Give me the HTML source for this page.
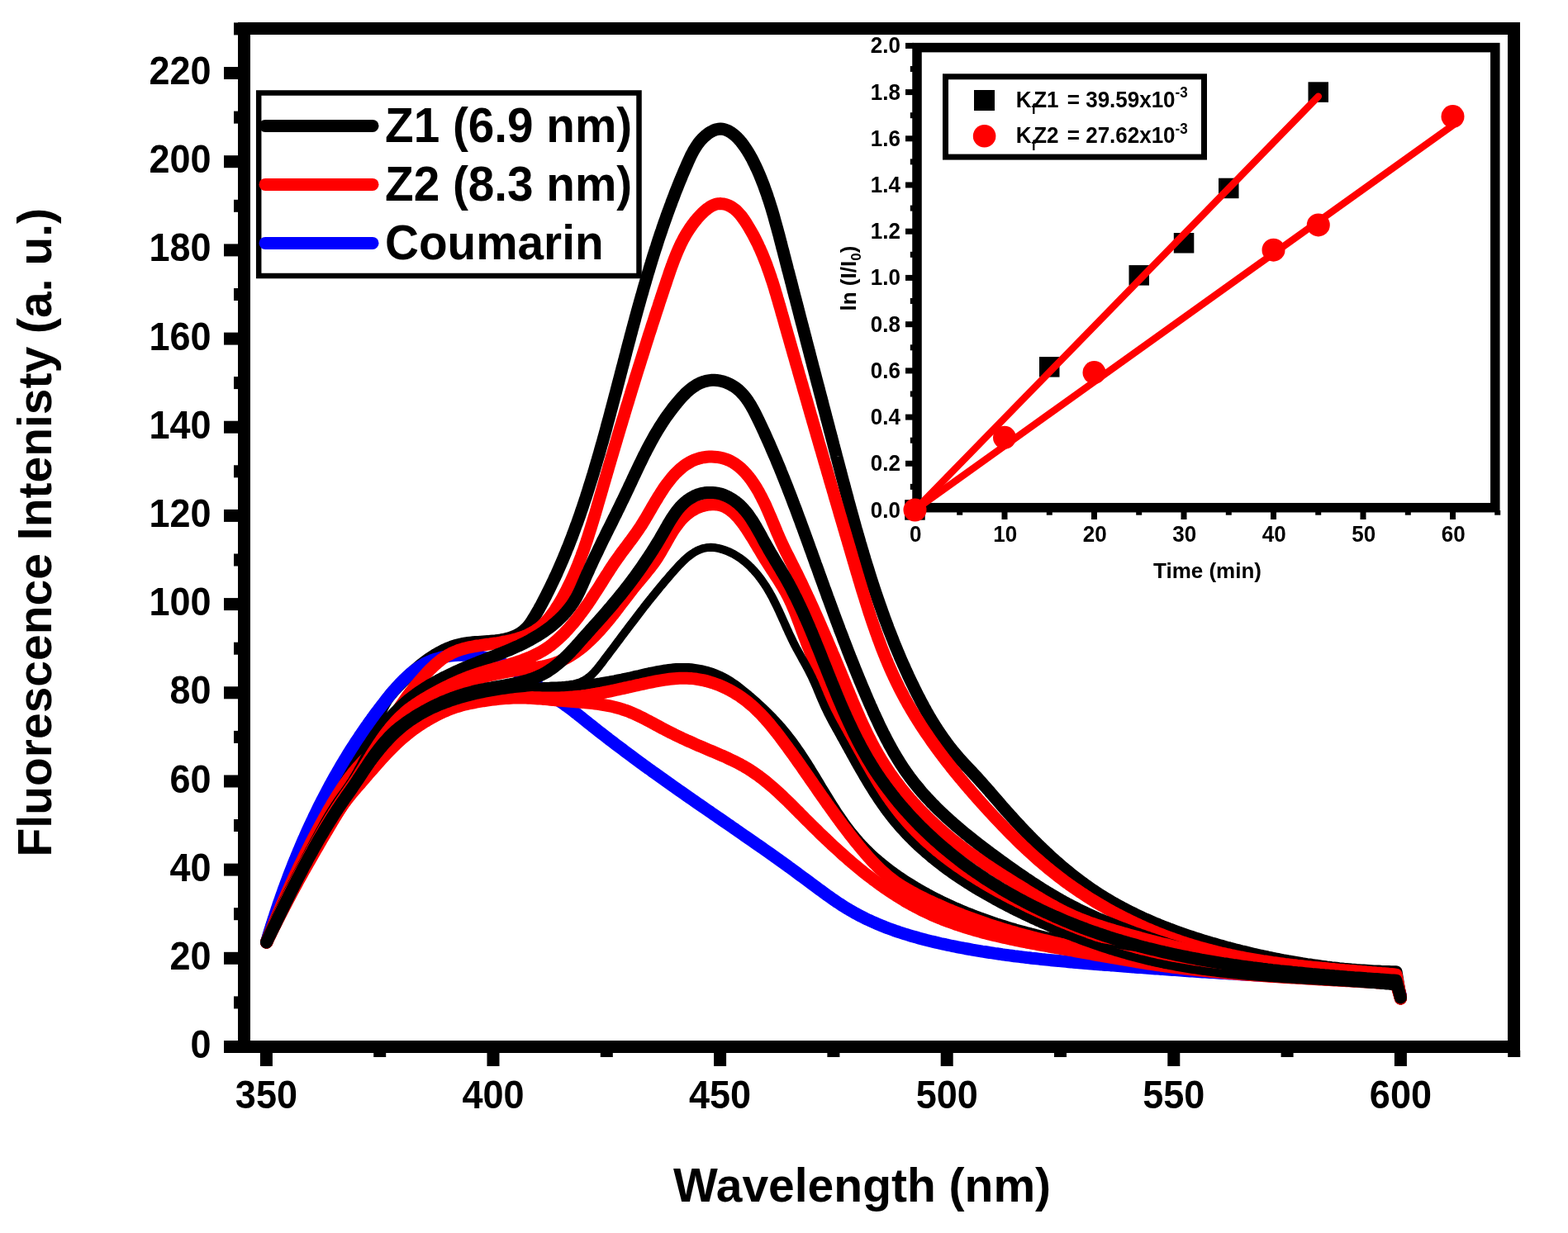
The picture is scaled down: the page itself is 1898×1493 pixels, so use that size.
<!DOCTYPE html><html><head><meta charset="utf-8"><title>Fluorescence spectra</title>
<style>html,body{margin:0;padding:0;background:#fff;overflow:hidden}svg{display:block}text{font-family:'Liberation Sans', Arial, Helvetica, sans-serif;font-weight:bold;fill:#000}</style></head><body>
<svg xmlns="http://www.w3.org/2000/svg" width="1898" height="1493" viewBox="0 0 1898 1493">
<rect width="1898" height="1493" fill="#fff"/>
<defs><clipPath id="pc"><rect x="303" y="42" width="1522" height="1218"/></clipPath></defs>
<g clip-path="url(#pc)" fill="none" stroke-linecap="round" stroke-linejoin="round">
<path d="M322.7,1141.1 L323.6,1138.2 L324.4,1135.3 L325.3,1132.4 L326.2,1129.5 L327.1,1126.6 L328.1,1123.8 L329.0,1120.9 L330.0,1118.0 L330.9,1115.2 L331.9,1112.3 L332.9,1109.5 L333.9,1106.7 L334.9,1103.8 L335.9,1101.0 L336.9,1098.2 L337.9,1095.3 L339.0,1092.5 L340.0,1089.7 L341.1,1086.9 L342.2,1084.1 L343.2,1081.3 L344.3,1078.5 L345.4,1075.7 L346.5,1072.9 L347.7,1070.2 L348.8,1067.4 L349.9,1064.6 L351.1,1061.8 L352.2,1059.1 L353.4,1056.3 L354.5,1053.5 L355.7,1050.8 L356.9,1048.0 L358.1,1045.3 L359.3,1042.5 L360.5,1039.8 L361.7,1037.0 L362.9,1034.3 L364.2,1031.5 L365.4,1028.8 L366.7,1026.1 L367.9,1023.3 L369.2,1020.6 L370.4,1017.9 L371.7,1015.2 L373.0,1012.4 L374.3,1009.7 L375.5,1007.0 L376.8,1004.3 L378.1,1001.6 L379.4,998.9 L380.8,996.1 L382.1,993.4 L383.4,990.7 L384.7,988.0 L386.0,985.3 L387.4,982.6 L388.7,979.9 L390.1,977.2 L391.4,974.5 L392.8,971.8 L394.1,969.1 L395.5,966.4 L396.9,963.7 L398.2,961.0 L399.6,958.4 L401.1,955.7 L402.5,953.0 L404.0,950.4 L405.5,947.8 L407.0,945.2 L408.6,942.7 L410.2,940.1 L411.8,937.6 L413.5,935.2 L415.2,932.8 L417.0,930.4 L418.9,928.0 L420.8,925.7 L422.8,923.5 L424.8,921.3 L426.9,919.1 L429.1,917.0 L431.3,914.9 L433.5,912.9 L435.7,910.8 L437.8,908.7 L439.9,906.5 L441.9,904.3 L443.8,902.1 L445.5,899.7 L447.1,897.2 L448.6,894.7 L450.0,892.0 L451.2,889.3 L452.3,886.5 L453.4,883.7 L454.4,880.8 L455.4,877.9 L456.4,875.0 L457.3,872.1 L458.2,869.2 L459.2,866.3 L460.2,863.4 L461.3,860.6 L462.4,857.8 L463.7,855.1 L465.0,852.5 L466.5,849.9 L468.0,847.4 L469.7,845.0 L471.5,842.7 L473.3,840.4 L475.2,838.1 L477.2,835.9 L479.3,833.7 L481.3,831.5 L483.4,829.4 L485.5,827.2 L487.7,825.0 L489.8,822.9 L492.0,820.8 L494.2,818.6 L496.4,816.5 L498.6,814.5 L500.9,812.4 L503.2,810.4 L505.5,808.4 L507.8,806.4 L510.2,804.5 L512.6,802.6 L515.0,800.8 L517.4,799.0 L519.9,797.3 L522.4,795.6 L524.9,794.0 L527.4,792.4 L530.0,790.9 L532.6,789.5 L535.3,788.1 L537.9,786.8 L540.6,785.6 L543.4,784.5 L546.1,783.4 L548.9,782.4 L551.8,781.5 L554.7,780.7 L557.6,780.0 L560.5,779.4 L563.5,778.9 L566.5,778.5 L569.5,778.1 L572.6,777.8 L575.6,777.6 L578.7,777.4 L581.8,777.2 L584.9,777.0 L587.9,776.8 L591.0,776.6 L594.1,776.3 L597.1,776.1 L600.1,775.8 L603.1,775.4 L606.1,775.0 L609.0,774.5 L611.9,773.8 L614.7,773.1 L617.5,772.3 L620.2,771.3 L622.9,770.2 L625.5,769.0 L628.1,767.6 L630.5,766.1 L632.9,764.4 L635.1,762.5 L637.2,760.5 L639.2,758.3 L641.1,755.9 L642.8,753.4 L644.5,750.8 L646.1,748.2 L647.7,745.6 L649.3,742.9 L650.8,740.3 L652.3,737.7 L653.7,735.0 L655.2,732.4 L656.6,729.7 L658.0,727.0 L659.4,724.4 L660.8,721.7 L662.1,719.0 L663.5,716.3 L664.8,713.7 L666.1,711.0 L667.4,708.3 L668.7,705.6 L670.0,702.8 L671.3,700.1 L672.5,697.4 L673.8,694.7 L675.0,691.9 L676.2,689.2 L677.4,686.5 L678.6,683.7 L679.8,681.0 L681.0,678.2 L682.2,675.4 L683.3,672.7 L684.5,669.9 L685.6,667.1 L686.7,664.3 L687.9,661.6 L689.0,658.8 L690.0,656.0 L691.1,653.2 L692.2,650.4 L693.3,647.6 L694.3,644.8 L695.4,641.9 L696.4,639.1 L697.4,636.3 L698.5,633.5 L699.5,630.6 L700.5,627.8 L701.5,625.0 L702.5,622.1 L703.4,619.3 L704.4,616.5 L705.4,613.6 L706.3,610.8 L707.3,607.9 L708.2,605.0 L709.2,602.2 L710.1,599.3 L711.0,596.5 L711.9,593.6 L712.8,590.7 L713.7,587.8 L714.6,585.0 L715.5,582.1 L716.4,579.2 L717.3,576.3 L718.2,573.5 L719.0,570.6 L719.9,567.7 L720.7,564.8 L721.6,561.9 L722.4,559.0 L723.3,556.1 L724.1,553.2 L725.0,550.4 L725.8,547.5 L726.6,544.6 L727.4,541.7 L728.2,538.8 L729.1,535.9 L729.9,533.0 L730.7,530.1 L731.5,527.2 L732.3,524.3 L733.1,521.4 L733.9,518.5 L734.6,515.6 L735.4,512.7 L736.2,509.8 L737.0,506.9 L737.8,503.9 L738.6,501.0 L739.3,498.1 L740.1,495.2 L740.9,492.3 L741.6,489.4 L742.4,486.5 L743.2,483.6 L743.9,480.7 L744.7,477.8 L745.5,474.9 L746.2,472.0 L747.0,469.1 L747.7,466.2 L748.5,463.2 L749.3,460.3 L750.0,457.4 L750.8,454.5 L751.5,451.6 L752.3,448.7 L753.0,445.8 L753.8,442.9 L754.6,440.0 L755.3,437.1 L756.1,434.2 L756.8,431.3 L757.6,428.4 L758.3,425.4 L759.1,422.5 L759.9,419.6 L760.6,416.7 L761.4,413.8 L762.2,410.9 L762.9,408.0 L763.7,405.1 L764.5,402.2 L765.2,399.3 L766.0,396.4 L766.8,393.5 L767.6,390.6 L768.4,387.7 L769.1,384.8 L769.9,381.9 L770.7,379.0 L771.5,376.1 L772.3,373.2 L773.1,370.3 L773.9,367.4 L774.7,364.5 L775.5,361.7 L776.3,358.8 L777.2,355.9 L778.0,353.0 L778.8,350.1 L779.6,347.2 L780.5,344.3 L781.3,341.4 L782.1,338.6 L783.0,335.7 L783.8,332.8 L784.7,329.9 L785.6,327.1 L786.4,324.2 L787.3,321.3 L788.2,318.4 L789.0,315.6 L789.9,312.7 L790.8,309.8 L791.7,307.0 L792.6,304.1 L793.5,301.2 L794.5,298.4 L795.4,295.5 L796.3,292.6 L797.2,289.8 L798.2,286.9 L799.1,284.1 L800.1,281.2 L801.1,278.4 L802.0,275.5 L803.0,272.7 L804.0,269.8 L805.0,267.0 L806.0,264.2 L807.0,261.3 L808.0,258.5 L809.0,255.7 L810.1,252.8 L811.1,250.0 L812.2,247.2 L813.2,244.3 L814.3,241.5 L815.4,238.7 L816.4,235.9 L817.5,233.1 L818.6,230.3 L819.8,227.4 L820.9,224.6 L822.0,221.8 L823.1,219.0 L824.3,216.2 L825.4,213.4 L826.6,210.6 L827.8,207.8 L829.0,205.0 L830.2,202.3 L831.4,199.5 L832.6,196.7 L833.9,193.9 L835.1,191.2 L836.4,188.4 L837.8,185.8 L839.2,183.1 L840.7,180.5 L842.3,178.0 L843.9,175.5 L845.6,173.1 L847.5,170.8 L849.4,168.6 L851.5,166.5 L853.7,164.5 L856.1,162.6 L858.5,160.8 L861.1,159.3 L863.8,157.9 L866.6,156.9 L869.4,156.3 L872.2,156.1 L875.0,156.3 L877.7,157.0 L880.4,158.0 L883.0,159.3 L885.6,160.9 L888.0,162.7 L890.4,164.7 L892.6,166.9 L894.8,169.2 L896.9,171.6 L898.8,174.1 L900.7,176.7 L902.5,179.3 L904.2,181.9 L905.8,184.5 L907.4,187.1 L908.8,189.7 L910.3,192.3 L911.6,195.0 L913.0,197.7 L914.3,200.4 L915.5,203.1 L916.8,205.8 L918.0,208.5 L919.2,211.2 L920.3,214.0 L921.4,216.7 L922.5,219.5 L923.6,222.3 L924.7,225.1 L925.7,227.9 L926.7,230.7 L927.7,233.5 L928.7,236.3 L929.6,239.2 L930.6,242.0 L931.5,244.9 L932.4,247.7 L933.3,250.6 L934.2,253.4 L935.0,256.3 L935.9,259.2 L936.7,262.1 L937.5,265.0 L938.3,267.9 L939.1,270.8 L939.9,273.7 L940.7,276.6 L941.5,279.5 L942.3,282.4 L943.1,285.3 L943.8,288.2 L944.6,291.2 L945.3,294.1 L946.1,297.0 L946.8,299.9 L947.6,302.8 L948.4,305.8 L949.1,308.7 L949.9,311.6 L950.6,314.5 L951.4,317.4 L952.1,320.3 L952.9,323.2 L953.6,326.2 L954.4,329.1 L955.2,332.0 L955.9,334.9 L956.7,337.8 L957.4,340.7 L958.2,343.6 L958.9,346.5 L959.7,349.5 L960.4,352.4 L961.2,355.3 L961.9,358.2 L962.7,361.1 L963.5,364.0 L964.2,366.9 L965.0,369.8 L965.7,372.7 L966.5,375.6 L967.2,378.6 L968.0,381.5 L968.7,384.4 L969.5,387.3 L970.2,390.2 L971.0,393.1 L971.8,396.0 L972.5,398.9 L973.3,401.8 L974.0,404.7 L974.8,407.6 L975.5,410.5 L976.3,413.4 L977.0,416.3 L977.8,419.2 L978.6,422.2 L979.3,425.1 L980.1,428.0 L980.8,430.9 L981.6,433.8 L982.3,436.7 L983.1,439.6 L983.8,442.5 L984.6,445.4 L985.4,448.3 L986.1,451.2 L986.9,454.1 L987.6,457.0 L988.4,459.9 L989.1,462.8 L989.9,465.7 L990.7,468.6 L991.4,471.5 L992.2,474.4 L992.9,477.3 L993.7,480.2 L994.5,483.1 L995.2,486.0 L996.0,489.0 L996.7,491.9 L997.5,494.8 L998.3,497.7 L999.0,500.6 L999.8,503.5 L1000.5,506.4 L1001.3,509.3 L1002.1,512.2 L1002.8,515.1 L1003.6,518.0 L1004.3,520.9 L1005.1,523.8 L1005.9,526.7 L1006.6,529.6 L1007.4,532.5 L1008.2,535.4 L1008.9,538.4 L1009.7,541.3 L1010.4,544.2 L1011.2,547.1 L1012.0,550.0 L1012.7,552.9 L1013.5,555.8 L1014.3,558.7 L1015.0,561.6 L1015.8,564.5 L1016.6,567.4 L1017.3,570.3 L1018.1,573.3 L1018.9,576.2 L1019.6,579.1 L1020.4,582.0 L1021.2,584.9 L1022.0,587.8 L1022.7,590.7 L1023.5,593.6 L1024.3,596.5 L1025.1,599.4 L1025.9,602.3 L1026.6,605.3 L1027.4,608.2 L1028.2,611.1 L1029.0,614.0 L1029.8,616.9 L1030.6,619.8 L1031.4,622.7 L1032.2,625.6 L1033.0,628.5 L1033.8,631.4 L1034.6,634.3 L1035.4,637.2 L1036.2,640.1 L1037.1,643.0 L1037.9,645.9 L1038.7,648.8 L1039.6,651.7 L1040.4,654.6 L1041.2,657.5 L1042.1,660.3 L1042.9,663.2 L1043.8,666.1 L1044.6,669.0 L1045.5,671.9 L1046.4,674.8 L1047.2,677.6 L1048.1,680.5 L1049.0,683.4 L1049.9,686.3 L1050.8,689.1 L1051.7,692.0 L1052.6,694.9 L1053.5,697.7 L1054.4,700.6 L1055.3,703.5 L1056.2,706.3 L1057.2,709.2 L1058.1,712.0 L1059.1,714.9 L1060.0,717.7 L1061.0,720.6 L1061.9,723.4 L1062.9,726.3 L1063.9,729.1 L1064.9,732.0 L1065.9,734.8 L1066.9,737.6 L1067.9,740.4 L1068.9,743.3 L1069.9,746.1 L1070.9,748.9 L1072.0,751.7 L1073.0,754.5 L1074.1,757.3 L1075.1,760.2 L1076.2,763.0 L1077.3,765.8 L1078.4,768.6 L1079.5,771.3 L1080.6,774.1 L1081.7,776.9 L1082.8,779.7 L1083.9,782.5 L1085.1,785.3 L1086.2,788.0 L1087.4,790.8 L1088.6,793.6 L1089.7,796.3 L1090.9,799.1 L1092.1,801.8 L1093.3,804.6 L1094.6,807.3 L1095.8,810.1 L1097.0,812.8 L1098.3,815.5 L1099.5,818.3 L1100.8,821.0 L1102.1,823.7 L1103.4,826.4 L1104.7,829.1 L1106.0,831.8 L1107.3,834.5 L1108.7,837.2 L1110.0,839.9 L1111.4,842.6 L1112.8,845.3 L1114.1,847.9 L1115.5,850.6 L1117.0,853.2 L1118.4,855.9 L1119.9,858.5 L1121.3,861.2 L1122.8,863.8 L1124.3,866.4 L1125.8,869.0 L1127.4,871.6 L1128.9,874.1 L1130.5,876.7 L1132.1,879.2 L1133.7,881.8 L1135.3,884.3 L1137.0,886.8 L1138.7,889.3 L1140.4,891.8 L1142.1,894.2 L1143.9,896.6 L1145.7,899.1 L1147.5,901.5 L1149.3,903.9 L1151.1,906.2 L1153.0,908.6 L1154.9,910.9 L1156.9,913.2 L1158.8,915.5 L1160.8,917.8 L1162.8,920.0 L1164.8,922.2 L1166.9,924.5 L1168.9,926.7 L1171.0,928.9 L1173.1,931.1 L1175.1,933.3 L1177.2,935.5 L1179.2,937.7 L1181.3,939.9 L1183.3,942.1 L1185.3,944.4 L1187.3,946.6 L1189.3,948.8 L1191.3,951.1 L1193.3,953.3 L1195.3,955.6 L1197.3,957.8 L1199.2,960.1 L1201.2,962.4 L1203.1,964.6 L1205.1,966.9 L1207.1,969.2 L1209.0,971.4 L1211.0,973.7 L1212.9,976.0 L1214.9,978.2 L1216.9,980.5 L1218.9,982.7 L1220.9,985.0 L1222.9,987.2 L1224.9,989.4 L1226.9,991.7 L1228.9,993.9 L1231.0,996.1 L1233.0,998.3 L1235.1,1000.5 L1237.1,1002.7 L1239.2,1004.9 L1241.3,1007.1 L1243.4,1009.3 L1245.5,1011.4 L1247.6,1013.6 L1249.7,1015.7 L1251.8,1017.9 L1254.0,1020.0 L1256.1,1022.1 L1258.3,1024.2 L1260.4,1026.3 L1262.6,1028.4 L1264.8,1030.5 L1267.0,1032.6 L1269.2,1034.6 L1271.4,1036.7 L1273.6,1038.7 L1275.9,1040.7 L1278.1,1042.7 L1280.4,1044.7 L1282.7,1046.7 L1284.9,1048.6 L1287.2,1050.6 L1289.5,1052.5 L1291.9,1054.4 L1294.2,1056.3 L1296.5,1058.2 L1298.9,1060.1 L1301.2,1061.9 L1303.6,1063.7 L1306.0,1065.6 L1308.4,1067.4 L1310.8,1069.1 L1313.2,1070.9 L1315.7,1072.6 L1318.1,1074.4 L1320.6,1076.1 L1323.0,1077.8 L1325.5,1079.4 L1328.0,1081.1 L1330.5,1082.7 L1333.0,1084.3 L1335.6,1085.9 L1338.1,1087.5 L1340.7,1089.0 L1343.3,1090.5 L1345.8,1092.1 L1348.4,1093.5 L1351.0,1095.0 L1353.7,1096.5 L1356.3,1097.9 L1358.9,1099.3 L1361.6,1100.7 L1364.2,1102.1 L1366.9,1103.5 L1369.6,1104.8 L1372.3,1106.1 L1375.0,1107.4 L1377.7,1108.7 L1380.4,1110.0 L1383.1,1111.3 L1385.8,1112.5 L1388.6,1113.7 L1391.3,1114.9 L1394.1,1116.1 L1396.9,1117.3 L1399.6,1118.5 L1402.4,1119.6 L1405.2,1120.8 L1408.0,1121.9 L1410.8,1123.0 L1413.6,1124.1 L1416.4,1125.2 L1419.3,1126.2 L1422.1,1127.3 L1424.9,1128.3 L1427.8,1129.3 L1430.6,1130.3 L1433.4,1131.3 L1436.3,1132.3 L1439.2,1133.3 L1442.0,1134.2 L1444.9,1135.2 L1447.8,1136.1 L1450.6,1137.0 L1453.5,1137.9 L1456.4,1138.8 L1459.3,1139.7 L1462.2,1140.6 L1465.1,1141.4 L1468.0,1142.3 L1470.9,1143.1 L1473.8,1143.9 L1476.7,1144.8 L1479.6,1145.6 L1482.5,1146.4 L1485.4,1147.2 L1488.3,1147.9 L1491.2,1148.7 L1494.1,1149.5 L1497.0,1150.2 L1499.9,1150.9 L1502.9,1151.7 L1505.8,1152.4 L1508.7,1153.1 L1511.6,1153.8 L1514.5,1154.5 L1517.5,1155.2 L1520.4,1155.9 L1523.3,1156.5 L1526.3,1157.2 L1529.2,1157.8 L1532.1,1158.4 L1535.0,1159.1 L1538.0,1159.7 L1540.9,1160.3 L1543.9,1160.9 L1546.8,1161.4 L1549.7,1162.0 L1552.7,1162.6 L1555.6,1163.1 L1558.6,1163.7 L1561.5,1164.2 L1564.5,1164.7 L1567.4,1165.2 L1570.4,1165.7 L1573.3,1166.2 L1576.3,1166.7 L1579.2,1167.1 L1582.2,1167.6 L1585.2,1168.0 L1588.1,1168.5 L1591.1,1168.9 L1594.1,1169.3 L1597.0,1169.7 L1600.0,1170.1 L1603.0,1170.5 L1606.0,1170.9 L1608.9,1171.2 L1611.9,1171.6 L1614.9,1171.9 L1617.9,1172.2 L1620.9,1172.6 L1623.9,1172.9 L1626.8,1173.2 L1629.8,1173.4 L1632.8,1173.7 L1635.8,1174.0 L1638.8,1174.2 L1641.8,1174.5 L1644.8,1174.7 L1647.8,1174.9 L1650.8,1175.1 L1653.8,1175.3 L1656.8,1175.5 L1659.9,1175.7 L1662.9,1175.9 L1665.9,1176.0 L1668.9,1176.1 L1671.9,1176.3 L1675.0,1176.4 L1678.0,1176.5 L1681.0,1176.6 L1684.0,1176.7 L1687.1,1176.8 L1690.1,1176.8 L1695.4,1209.0" stroke="#000" stroke-width="15"/>
<path d="M322.4,1140.9 L323.3,1138.1 L324.2,1135.2 L325.0,1132.3 L325.9,1129.4 L326.8,1126.6 L327.7,1123.7 L328.6,1120.8 L329.5,1118.0 L330.4,1115.1 L331.3,1112.2 L332.3,1109.4 L333.2,1106.5 L334.2,1103.6 L335.1,1100.8 L336.1,1097.9 L337.0,1095.1 L338.0,1092.2 L339.0,1089.4 L340.0,1086.6 L341.0,1083.7 L342.0,1080.9 L343.0,1078.1 L344.0,1075.2 L345.1,1072.4 L346.1,1069.6 L347.2,1066.7 L348.2,1063.9 L349.3,1061.1 L350.3,1058.3 L351.4,1055.5 L352.5,1052.7 L353.6,1049.9 L354.7,1047.1 L355.8,1044.3 L357.0,1041.5 L358.1,1038.7 L359.2,1035.9 L360.4,1033.1 L361.5,1030.4 L362.7,1027.6 L363.9,1024.8 L365.1,1022.0 L366.2,1019.3 L367.4,1016.5 L368.7,1013.8 L369.9,1011.0 L371.1,1008.3 L372.3,1005.5 L373.6,1002.8 L374.8,1000.1 L376.1,997.3 L377.4,994.6 L378.7,991.9 L379.9,989.2 L381.3,986.4 L382.6,983.7 L383.9,981.0 L385.2,978.3 L386.5,975.7 L387.9,973.0 L389.3,970.3 L390.6,967.6 L392.0,964.9 L393.4,962.3 L394.8,959.6 L396.2,956.9 L397.6,954.3 L399.0,951.6 L400.5,949.0 L401.9,946.4 L403.4,943.7 L404.8,941.1 L406.3,938.5 L407.8,935.9 L409.3,933.3 L410.8,930.7 L412.3,928.1 L413.8,925.5 L415.4,922.9 L416.9,920.3 L418.5,917.8 L420.1,915.2 L421.6,912.6 L423.2,910.1 L424.8,907.5 L426.4,905.0 L428.1,902.5 L429.7,899.9 L431.3,897.4 L433.0,894.9 L434.7,892.4 L436.3,889.9 L438.0,887.4 L439.7,884.9 L441.4,882.4 L443.1,879.9 L444.9,877.5 L446.6,875.0 L448.4,872.6 L450.1,870.1 L451.9,867.7 L453.7,865.2 L455.5,862.8 L457.3,860.4 L459.1,858.0 L461.0,855.6 L462.8,853.2 L464.7,850.8 L466.5,848.4 L468.4,846.1 L470.3,843.7 L472.2,841.4 L474.1,839.0 L476.1,836.7 L478.1,834.5 L480.1,832.2 L482.1,830.0 L484.1,827.8 L486.2,825.6 L488.3,823.5 L490.5,821.4 L492.6,819.4 L494.9,817.4 L497.1,815.4 L499.4,813.5 L501.7,811.7 L504.1,809.9 L506.5,808.2 L509.0,806.6 L511.5,805.1 L514.1,803.6 L516.8,802.3 L519.4,801.1 L522.2,799.9 L524.9,798.9 L527.8,797.9 L530.6,797.1 L533.5,796.3 L536.4,795.6 L539.4,795.0 L542.3,794.5 L545.3,794.1 L548.3,793.7 L551.4,793.5 L554.4,793.3 L557.4,793.2 L560.5,793.2 L563.5,793.2 L566.5,793.3 L569.6,793.5 L572.6,793.8 L575.6,794.2 L578.6,794.6 L581.5,795.1 L584.5,795.7 L587.4,796.4 L590.3,797.1 L593.2,797.9 L596.1,798.8 L598.9,799.8 L601.7,800.8 L604.5,801.9 L607.3,803.1 L610.0,804.3 L612.6,805.6 L615.3,807.0 L617.9,808.4 L620.5,809.9 L623.1,811.5 L625.6,813.0 L628.1,814.7 L630.6,816.3 L633.1,818.0 L635.6,819.7 L638.1,821.4 L640.6,823.2 L643.0,824.9 L645.5,826.7 L647.9,828.4 L650.4,830.2 L652.9,831.9 L655.3,833.6 L657.8,835.4 L660.2,837.1 L662.7,838.8 L665.2,840.5 L667.7,842.2 L670.1,844.0 L672.6,845.7 L675.1,847.4 L677.5,849.1 L680.0,850.8 L682.4,852.5 L684.9,854.3 L687.3,856.0 L689.7,857.8 L692.1,859.6 L694.4,861.4 L696.8,863.3 L699.2,865.1 L701.5,867.0 L703.9,868.8 L706.2,870.7 L708.6,872.6 L710.9,874.5 L713.2,876.3 L715.6,878.2 L717.9,880.1 L720.3,881.9 L722.7,883.8 L725.0,885.7 L727.4,887.5 L729.8,889.4 L732.1,891.2 L734.5,893.0 L736.9,894.9 L739.3,896.7 L741.7,898.5 L744.1,900.4 L746.5,902.2 L748.9,904.0 L751.3,905.8 L753.7,907.6 L756.1,909.4 L758.5,911.2 L760.9,913.0 L763.3,914.8 L765.8,916.6 L768.2,918.4 L770.6,920.2 L773.0,922.0 L775.5,923.8 L777.9,925.6 L780.3,927.3 L782.8,929.1 L785.2,930.9 L787.7,932.6 L790.1,934.4 L792.6,936.2 L795.0,937.9 L797.5,939.7 L799.9,941.4 L802.4,943.2 L804.8,944.9 L807.3,946.7 L809.7,948.4 L812.2,950.2 L814.6,951.9 L817.1,953.6 L819.6,955.4 L822.0,957.1 L824.5,958.8 L827.0,960.5 L829.4,962.3 L831.9,964.0 L834.4,965.7 L836.8,967.4 L839.3,969.1 L841.8,970.9 L844.2,972.6 L846.7,974.3 L849.2,976.0 L851.6,977.7 L854.1,979.4 L856.6,981.1 L859.1,982.8 L861.5,984.5 L864.0,986.2 L866.5,987.9 L868.9,989.6 L871.4,991.3 L873.9,993.0 L876.4,994.7 L878.8,996.4 L881.3,998.1 L883.8,999.8 L886.2,1001.5 L888.7,1003.2 L891.2,1005.0 L893.6,1006.7 L896.1,1008.4 L898.6,1010.1 L901.0,1011.8 L903.5,1013.5 L906.0,1015.2 L908.4,1016.9 L910.9,1018.6 L913.4,1020.4 L915.8,1022.1 L918.3,1023.8 L920.8,1025.5 L923.2,1027.2 L925.7,1029.0 L928.1,1030.7 L930.6,1032.4 L933.1,1034.2 L935.5,1035.9 L938.0,1037.7 L940.4,1039.4 L942.9,1041.2 L945.3,1042.9 L947.8,1044.7 L950.2,1046.4 L952.7,1048.2 L955.1,1050.0 L957.5,1051.7 L960.0,1053.5 L962.4,1055.3 L964.9,1057.1 L967.3,1058.9 L969.7,1060.7 L972.2,1062.5 L974.6,1064.3 L977.0,1066.1 L979.5,1067.9 L981.9,1069.7 L984.3,1071.5 L986.7,1073.3 L989.2,1075.1 L991.6,1076.9 L994.1,1078.7 L996.5,1080.5 L998.9,1082.3 L1001.4,1084.1 L1003.9,1085.8 L1006.3,1087.6 L1008.8,1089.3 L1011.3,1091.0 L1013.8,1092.7 L1016.3,1094.3 L1018.8,1096.0 L1021.4,1097.6 L1023.9,1099.2 L1026.5,1100.7 L1029.1,1102.3 L1031.7,1103.8 L1034.3,1105.3 L1036.9,1106.7 L1039.5,1108.1 L1042.2,1109.5 L1044.9,1110.8 L1047.5,1112.2 L1050.2,1113.5 L1052.9,1114.7 L1055.7,1116.0 L1058.4,1117.2 L1061.1,1118.4 L1063.9,1119.6 L1066.7,1120.7 L1069.4,1121.8 L1072.2,1122.9 L1075.0,1124.0 L1077.8,1125.0 L1080.7,1126.1 L1083.5,1127.1 L1086.3,1128.0 L1089.2,1129.0 L1092.0,1129.9 L1094.9,1130.8 L1097.8,1131.7 L1100.7,1132.6 L1103.6,1133.5 L1106.5,1134.3 L1109.4,1135.1 L1112.3,1135.9 L1115.2,1136.7 L1118.1,1137.5 L1121.0,1138.3 L1123.9,1139.0 L1126.9,1139.7 L1129.8,1140.4 L1132.8,1141.1 L1135.7,1141.8 L1138.7,1142.5 L1141.6,1143.1 L1144.6,1143.7 L1147.5,1144.4 L1150.5,1145.0 L1153.4,1145.6 L1156.4,1146.2 L1159.4,1146.8 L1162.3,1147.4 L1165.3,1147.9 L1168.2,1148.5 L1171.2,1149.0 L1174.2,1149.5 L1177.1,1150.1 L1180.1,1150.6 L1183.1,1151.1 L1186.1,1151.6 L1189.0,1152.1 L1192.0,1152.5 L1195.0,1153.0 L1198.0,1153.5 L1200.9,1153.9 L1203.9,1154.4 L1206.9,1154.8 L1209.9,1155.2 L1212.8,1155.7 L1215.8,1156.1 L1218.8,1156.5 L1221.8,1156.9 L1224.8,1157.3 L1227.7,1157.7 L1230.7,1158.0 L1233.7,1158.4 L1236.7,1158.8 L1239.7,1159.1 L1242.7,1159.5 L1245.7,1159.8 L1248.7,1160.2 L1251.6,1160.5 L1254.6,1160.8 L1257.6,1161.1 L1260.6,1161.5 L1263.6,1161.8 L1266.6,1162.1 L1269.6,1162.4 L1272.6,1162.7 L1275.6,1163.0 L1278.6,1163.3 L1281.6,1163.6 L1284.6,1163.8 L1287.5,1164.1 L1290.5,1164.4 L1293.5,1164.7 L1296.5,1164.9 L1299.5,1165.2 L1302.5,1165.5 L1305.5,1165.7 L1308.5,1166.0 L1311.5,1166.2 L1314.5,1166.5 L1317.5,1166.7 L1320.5,1167.0 L1323.5,1167.2 L1326.5,1167.5 L1329.5,1167.7 L1332.5,1167.9 L1335.5,1168.2 L1338.5,1168.4 L1341.5,1168.6 L1344.5,1168.9 L1347.5,1169.1 L1350.5,1169.3 L1353.5,1169.6 L1356.5,1169.8 L1359.5,1170.0 L1362.5,1170.3 L1365.5,1170.5 L1368.5,1170.7 L1371.5,1170.9 L1374.5,1171.2 L1377.5,1171.4 L1380.5,1171.6 L1383.5,1171.8 L1386.5,1172.1 L1389.5,1172.3 L1392.5,1172.5 L1395.5,1172.7 L1398.5,1172.9 L1401.5,1173.1 L1404.5,1173.4 L1407.5,1173.6 L1410.5,1173.8 L1413.5,1174.0 L1416.5,1174.2 L1419.5,1174.4 L1422.5,1174.6 L1425.5,1174.8 L1428.5,1175.0 L1431.5,1175.2 L1434.6,1175.5 L1437.6,1175.7 L1440.6,1175.9 L1443.6,1176.1 L1446.6,1176.3 L1449.6,1176.5 L1452.6,1176.7 L1455.6,1176.9 L1458.6,1177.1 L1461.6,1177.2 L1464.6,1177.4 L1467.6,1177.6 L1470.6,1177.8 L1473.6,1178.0 L1476.6,1178.2 L1479.6,1178.4 L1482.6,1178.6 L1485.6,1178.8 L1488.6,1179.0 L1491.6,1179.1 L1494.6,1179.3 L1497.6,1179.5 L1500.6,1179.7 L1503.6,1179.9 L1506.6,1180.0 L1509.6,1180.2 L1512.7,1180.4 L1515.7,1180.6 L1518.7,1180.8 L1521.7,1180.9 L1524.7,1181.1 L1527.7,1181.3 L1530.7,1181.4 L1533.7,1181.6 L1536.7,1181.8 L1539.7,1181.9 L1542.7,1182.1 L1545.7,1182.3 L1548.7,1182.4 L1551.7,1182.6 L1554.7,1182.8 L1557.7,1182.9 L1560.7,1183.1 L1563.7,1183.3 L1566.7,1183.4 L1569.7,1183.6 L1572.8,1183.7 L1575.8,1183.9 L1578.8,1184.0 L1581.8,1184.2 L1584.8,1184.3 L1587.8,1184.5 L1590.8,1184.6 L1593.8,1184.8 L1596.8,1184.9 L1599.8,1185.1 L1602.8,1185.2 L1605.8,1185.4 L1608.8,1185.5 L1611.8,1185.7 L1614.8,1185.8 L1617.8,1185.9 L1620.8,1186.1 L1623.9,1186.2 L1626.9,1186.4 L1629.9,1186.5 L1632.9,1186.6 L1635.9,1186.8 L1638.9,1186.9 L1641.9,1187.0 L1644.9,1187.2 L1647.9,1187.3 L1650.9,1187.4 L1653.9,1187.6 L1656.9,1187.7 L1659.9,1187.8 L1662.9,1187.9 L1665.9,1188.1 L1669.0,1188.2 L1672.0,1188.3 L1675.0,1188.4 L1678.0,1188.5 L1681.0,1188.7 L1684.0,1188.8 L1687.0,1188.9 L1690.0,1189.0 L1695.4,1205.0" stroke="#00f" stroke-width="15"/>
<path d="M322.6,1141.0 L323.7,1138.2 L324.8,1135.4 L325.9,1132.6 L327.0,1129.8 L328.1,1127.0 L329.2,1124.2 L330.3,1121.4 L331.5,1118.6 L332.6,1115.8 L333.7,1113.1 L334.9,1110.3 L336.0,1107.5 L337.2,1104.7 L338.4,1102.0 L339.5,1099.2 L340.7,1096.4 L341.9,1093.7 L343.1,1090.9 L344.3,1088.2 L345.5,1085.4 L346.7,1082.7 L347.9,1079.9 L349.2,1077.2 L350.4,1074.5 L351.7,1071.7 L352.9,1069.0 L354.2,1066.3 L355.4,1063.5 L356.7,1060.8 L358.0,1058.1 L359.3,1055.4 L360.5,1052.7 L361.8,1050.0 L363.1,1047.3 L364.5,1044.6 L365.8,1041.9 L367.1,1039.2 L368.4,1036.5 L369.8,1033.8 L371.1,1031.1 L372.5,1028.4 L373.8,1025.7 L375.2,1023.0 L376.5,1020.4 L377.9,1017.7 L379.3,1015.0 L380.7,1012.4 L382.1,1009.7 L383.5,1007.0 L384.9,1004.4 L386.3,1001.7 L387.7,999.1 L389.2,996.4 L390.6,993.8 L392.0,991.1 L393.5,988.5 L395.0,985.9 L396.4,983.2 L397.9,980.6 L399.4,978.0 L400.9,975.4 L402.4,972.8 L404.0,970.2 L405.5,967.7 L407.1,965.1 L408.7,962.5 L410.3,960.0 L411.9,957.5 L413.5,955.0 L415.2,952.5 L416.9,950.0 L418.6,947.6 L420.4,945.1 L422.1,942.7 L423.9,940.3 L425.8,938.0 L427.6,935.6 L429.5,933.3 L431.4,931.0 L433.4,928.7 L435.4,926.5 L437.4,924.2 L439.5,922.0 L441.5,919.9 L443.7,917.7 L445.8,915.6 L448.0,913.4 L450.1,911.3 L452.2,909.1 L454.2,906.9 L456.2,904.7 L458.1,902.4 L459.9,900.0 L461.6,897.5 L463.2,895.0 L464.7,892.4 L466.1,889.7 L467.5,887.0 L468.9,884.3 L470.2,881.6 L471.5,878.8 L472.9,876.1 L474.2,873.4 L475.7,870.8 L477.1,868.1 L478.5,865.5 L480.0,863.0 L481.6,860.4 L483.1,857.9 L484.7,855.4 L486.3,852.9 L488.0,850.4 L489.7,848.0 L491.4,845.5 L493.1,843.1 L494.9,840.7 L496.7,838.3 L498.5,836.0 L500.4,833.6 L502.2,831.3 L504.2,829.0 L506.1,826.7 L508.1,824.4 L510.1,822.1 L512.1,819.8 L514.2,817.5 L516.2,815.3 L518.4,813.0 L520.5,810.8 L522.7,808.7 L524.9,806.6 L527.2,804.5 L529.5,802.5 L531.8,800.6 L534.2,798.7 L536.6,797.0 L539.0,795.3 L541.5,793.7 L544.1,792.3 L546.7,790.9 L549.3,789.7 L552.0,788.6 L554.7,787.5 L557.5,786.6 L560.3,785.8 L563.1,785.0 L566.0,784.3 L568.9,783.6 L571.8,783.1 L574.7,782.5 L577.7,782.0 L580.7,781.6 L583.7,781.1 L586.7,780.7 L589.7,780.3 L592.8,779.9 L595.8,779.4 L598.9,779.0 L601.9,778.6 L605.0,778.1 L608.0,777.5 L611.1,777.0 L614.1,776.4 L617.1,775.7 L620.1,775.0 L623.1,774.2 L626.0,773.4 L628.9,772.5 L631.7,771.5 L634.5,770.5 L637.3,769.4 L640.0,768.1 L642.6,766.8 L645.1,765.4 L647.6,763.9 L650.0,762.2 L652.4,760.5 L654.6,758.7 L656.8,756.7 L658.9,754.7 L661.0,752.6 L663.0,750.4 L664.9,748.1 L666.7,745.7 L668.5,743.3 L670.3,740.9 L672.0,738.4 L673.6,735.8 L675.3,733.3 L676.8,730.7 L678.4,728.0 L679.9,725.4 L681.4,722.8 L682.8,720.1 L684.3,717.4 L685.7,714.7 L687.0,712.0 L688.4,709.3 L689.7,706.6 L691.0,703.9 L692.2,701.2 L693.5,698.4 L694.7,695.7 L695.9,692.9 L697.1,690.1 L698.2,687.4 L699.4,684.6 L700.5,681.8 L701.6,679.0 L702.6,676.2 L703.7,673.4 L704.7,670.5 L705.8,667.7 L706.8,664.9 L707.8,662.0 L708.7,659.2 L709.7,656.4 L710.7,653.5 L711.6,650.6 L712.5,647.8 L713.4,644.9 L714.3,642.0 L715.2,639.2 L716.1,636.3 L717.0,633.4 L717.9,630.5 L718.7,627.7 L719.6,624.8 L720.5,621.9 L721.3,619.0 L722.2,616.1 L723.0,613.2 L723.8,610.3 L724.7,607.4 L725.5,604.5 L726.3,601.7 L727.2,598.8 L728.0,595.9 L728.9,593.0 L729.7,590.1 L730.5,587.2 L731.4,584.3 L732.2,581.4 L733.0,578.6 L733.9,575.7 L734.7,572.8 L735.6,569.9 L736.4,567.0 L737.2,564.1 L738.1,561.3 L738.9,558.4 L739.8,555.5 L740.6,552.6 L741.5,549.8 L742.3,546.9 L743.2,544.0 L744.0,541.1 L744.9,538.2 L745.7,535.4 L746.6,532.5 L747.4,529.6 L748.3,526.7 L749.1,523.9 L750.0,521.0 L750.8,518.1 L751.7,515.3 L752.6,512.4 L753.4,509.5 L754.3,506.6 L755.2,503.8 L756.0,500.9 L756.9,498.0 L757.7,495.2 L758.6,492.3 L759.5,489.4 L760.4,486.6 L761.2,483.7 L762.1,480.8 L763.0,477.9 L763.8,475.1 L764.7,472.2 L765.6,469.3 L766.5,466.5 L767.4,463.6 L768.2,460.7 L769.1,457.9 L770.0,455.0 L770.9,452.1 L771.8,449.3 L772.7,446.4 L773.6,443.5 L774.5,440.7 L775.4,437.8 L776.3,434.9 L777.2,432.1 L778.1,429.2 L779.0,426.4 L779.9,423.5 L780.8,420.6 L781.7,417.8 L782.6,414.9 L783.5,412.0 L784.4,409.2 L785.3,406.3 L786.2,403.4 L787.2,400.6 L788.1,397.7 L789.0,394.8 L789.9,392.0 L790.9,389.1 L791.8,386.2 L792.7,383.4 L793.6,380.5 L794.6,377.6 L795.5,374.7 L796.5,371.9 L797.4,369.0 L798.3,366.1 L799.3,363.3 L800.2,360.4 L801.2,357.5 L802.1,354.7 L803.1,351.8 L804.0,348.9 L805.0,346.1 L806.0,343.2 L806.9,340.3 L807.9,337.4 L808.9,334.6 L809.8,331.7 L810.8,328.8 L811.8,326.0 L812.8,323.1 L813.9,320.3 L814.9,317.4 L816.0,314.6 L817.1,311.8 L818.2,309.0 L819.3,306.2 L820.5,303.5 L821.7,300.7 L823.0,298.0 L824.2,295.3 L825.6,292.6 L826.9,290.0 L828.3,287.4 L829.8,284.8 L831.3,282.2 L832.9,279.7 L834.5,277.2 L836.2,274.7 L837.9,272.3 L839.7,269.9 L841.6,267.5 L843.5,265.2 L845.5,262.9 L847.5,260.7 L849.7,258.5 L851.9,256.4 L854.2,254.4 L856.6,252.5 L859.0,250.8 L861.6,249.3 L864.2,248.1 L866.9,247.2 L869.7,246.7 L872.5,246.6 L875.5,246.9 L878.4,247.5 L881.2,248.5 L883.9,249.8 L886.5,251.3 L888.9,253.0 L891.2,254.9 L893.3,257.0 L895.3,259.2 L897.3,261.5 L899.1,264.0 L900.9,266.5 L902.6,269.0 L904.2,271.6 L905.8,274.3 L907.4,276.9 L908.9,279.5 L910.4,282.2 L911.9,284.8 L913.3,287.5 L914.7,290.2 L916.0,292.9 L917.4,295.6 L918.6,298.4 L919.9,301.1 L921.1,303.9 L922.3,306.6 L923.5,309.4 L924.6,312.2 L925.7,315.0 L926.8,317.8 L927.9,320.6 L928.9,323.4 L929.9,326.3 L930.9,329.1 L931.9,331.9 L932.9,334.8 L933.8,337.7 L934.8,340.5 L935.7,343.4 L936.6,346.2 L937.5,349.1 L938.3,352.0 L939.2,354.9 L940.1,357.8 L940.9,360.7 L941.8,363.5 L942.6,366.4 L943.4,369.3 L944.3,372.2 L945.1,375.1 L945.9,378.0 L946.7,380.9 L947.6,383.8 L948.4,386.7 L949.2,389.6 L950.0,392.5 L950.8,395.4 L951.7,398.3 L952.5,401.2 L953.3,404.0 L954.1,406.9 L955.0,409.8 L955.8,412.7 L956.6,415.6 L957.4,418.5 L958.3,421.4 L959.1,424.3 L959.9,427.1 L960.7,430.0 L961.6,432.9 L962.4,435.8 L963.2,438.7 L964.0,441.6 L964.9,444.5 L965.7,447.3 L966.5,450.2 L967.3,453.1 L968.2,456.0 L969.0,458.9 L969.8,461.7 L970.7,464.6 L971.5,467.5 L972.3,470.4 L973.1,473.3 L974.0,476.2 L974.8,479.0 L975.6,481.9 L976.5,484.8 L977.3,487.7 L978.1,490.5 L978.9,493.4 L979.8,496.3 L980.6,499.2 L981.4,502.1 L982.3,504.9 L983.1,507.8 L983.9,510.7 L984.8,513.6 L985.6,516.5 L986.4,519.3 L987.3,522.2 L988.1,525.1 L988.9,528.0 L989.8,530.9 L990.6,533.7 L991.4,536.6 L992.3,539.5 L993.1,542.4 L994.0,545.2 L994.8,548.1 L995.6,551.0 L996.5,553.9 L997.3,556.8 L998.1,559.6 L999.0,562.5 L999.8,565.4 L1000.7,568.3 L1001.5,571.2 L1002.3,574.0 L1003.2,576.9 L1004.0,579.8 L1004.8,582.7 L1005.7,585.6 L1006.5,588.5 L1007.4,591.3 L1008.2,594.2 L1009.1,597.1 L1009.9,600.0 L1010.7,602.9 L1011.6,605.8 L1012.4,608.6 L1013.3,611.5 L1014.1,614.4 L1015.0,617.3 L1015.8,620.2 L1016.6,623.1 L1017.5,625.9 L1018.3,628.8 L1019.2,631.7 L1020.0,634.6 L1020.9,637.5 L1021.7,640.4 L1022.6,643.3 L1023.4,646.2 L1024.3,649.1 L1025.1,652.0 L1026.0,654.8 L1026.8,657.7 L1027.7,660.6 L1028.5,663.5 L1029.4,666.4 L1030.2,669.3 L1031.1,672.2 L1031.9,675.1 L1032.8,678.0 L1033.6,680.9 L1034.5,683.8 L1035.3,686.7 L1036.2,689.6 L1037.0,692.5 L1037.9,695.4 L1038.8,698.3 L1039.6,701.2 L1040.5,704.1 L1041.4,707.0 L1042.2,709.9 L1043.1,712.8 L1044.0,715.7 L1044.9,718.6 L1045.8,721.5 L1046.7,724.3 L1047.6,727.2 L1048.5,730.1 L1049.4,733.0 L1050.3,735.9 L1051.2,738.8 L1052.1,741.6 L1053.1,744.5 L1054.0,747.4 L1055.0,750.2 L1055.9,753.1 L1056.9,755.9 L1057.9,758.8 L1058.9,761.6 L1059.9,764.5 L1060.9,767.3 L1061.9,770.1 L1062.9,773.0 L1064.0,775.8 L1065.0,778.6 L1066.1,781.4 L1067.1,784.2 L1068.2,787.0 L1069.3,789.8 L1070.4,792.6 L1071.6,795.4 L1072.7,798.2 L1073.9,800.9 L1075.0,803.7 L1076.2,806.4 L1077.4,809.2 L1078.6,811.9 L1079.8,814.6 L1081.1,817.4 L1082.3,820.1 L1083.6,822.8 L1084.9,825.5 L1086.2,828.1 L1087.5,830.8 L1088.8,833.5 L1090.2,836.1 L1091.6,838.8 L1093.0,841.4 L1094.4,844.1 L1095.8,846.7 L1097.3,849.3 L1098.7,851.9 L1100.2,854.5 L1101.7,857.1 L1103.2,859.7 L1104.7,862.2 L1106.3,864.8 L1107.8,867.3 L1109.4,869.9 L1111.0,872.4 L1112.6,874.9 L1114.2,877.5 L1115.8,880.0 L1117.5,882.5 L1119.1,885.0 L1120.8,887.5 L1122.5,889.9 L1124.2,892.4 L1125.9,894.9 L1127.6,897.3 L1129.3,899.8 L1131.1,902.2 L1132.8,904.6 L1134.6,907.1 L1136.4,909.5 L1138.2,911.9 L1140.0,914.3 L1141.8,916.7 L1143.6,919.1 L1145.5,921.5 L1147.3,923.8 L1149.2,926.2 L1151.0,928.6 L1152.9,930.9 L1154.8,933.3 L1156.7,935.6 L1158.6,937.9 L1160.5,940.3 L1162.4,942.6 L1164.4,944.9 L1166.3,947.2 L1168.2,949.5 L1170.2,951.8 L1172.2,954.1 L1174.1,956.4 L1176.1,958.7 L1178.1,961.0 L1180.1,963.2 L1182.1,965.5 L1184.1,967.8 L1186.1,970.0 L1188.1,972.3 L1190.1,974.5 L1192.1,976.7 L1194.2,979.0 L1196.2,981.2 L1198.2,983.4 L1200.3,985.6 L1202.3,987.9 L1204.4,990.1 L1206.5,992.3 L1208.5,994.4 L1210.6,996.6 L1212.7,998.8 L1214.8,1001.0 L1216.9,1003.1 L1219.0,1005.3 L1221.1,1007.5 L1223.2,1009.6 L1225.3,1011.7 L1227.4,1013.8 L1229.6,1016.0 L1231.7,1018.1 L1233.9,1020.2 L1236.0,1022.2 L1238.2,1024.3 L1240.4,1026.4 L1242.6,1028.4 L1244.8,1030.5 L1247.0,1032.5 L1249.2,1034.5 L1251.4,1036.5 L1253.6,1038.5 L1255.9,1040.5 L1258.2,1042.5 L1260.4,1044.4 L1262.7,1046.4 L1265.0,1048.3 L1267.3,1050.2 L1269.6,1052.1 L1271.9,1054.0 L1274.3,1055.9 L1276.6,1057.8 L1279.0,1059.6 L1281.3,1061.5 L1283.7,1063.3 L1286.1,1065.1 L1288.5,1066.9 L1290.9,1068.7 L1293.4,1070.4 L1295.8,1072.2 L1298.2,1073.9 L1300.7,1075.6 L1303.2,1077.3 L1305.7,1079.0 L1308.2,1080.7 L1310.7,1082.3 L1313.2,1084.0 L1315.7,1085.6 L1318.2,1087.2 L1320.8,1088.8 L1323.3,1090.4 L1325.9,1092.0 L1328.4,1093.5 L1331.0,1095.0 L1333.6,1096.6 L1336.2,1098.1 L1338.8,1099.6 L1341.4,1101.0 L1344.1,1102.5 L1346.7,1104.0 L1349.3,1105.4 L1352.0,1106.8 L1354.6,1108.2 L1357.3,1109.6 L1360.0,1110.9 L1362.7,1112.3 L1365.4,1113.6 L1368.1,1115.0 L1370.8,1116.3 L1373.5,1117.6 L1376.2,1118.8 L1378.9,1120.1 L1381.7,1121.3 L1384.4,1122.6 L1387.2,1123.8 L1389.9,1125.0 L1392.7,1126.1 L1395.5,1127.3 L1398.3,1128.5 L1401.0,1129.6 L1403.8,1130.7 L1406.6,1131.8 L1409.4,1132.9 L1412.3,1134.0 L1415.1,1135.0 L1417.9,1136.0 L1420.7,1137.1 L1423.6,1138.1 L1426.4,1139.0 L1429.2,1140.0 L1432.1,1141.0 L1435.0,1141.9 L1437.8,1142.8 L1440.7,1143.7 L1443.5,1144.6 L1446.4,1145.5 L1449.3,1146.3 L1452.2,1147.2 L1455.1,1148.0 L1458.0,1148.8 L1460.9,1149.6 L1463.8,1150.3 L1466.7,1151.1 L1469.6,1151.8 L1472.5,1152.6 L1475.4,1153.3 L1478.3,1154.0 L1481.3,1154.6 L1484.2,1155.3 L1487.1,1155.9 L1490.1,1156.6 L1493.0,1157.2 L1495.9,1157.8 L1498.9,1158.4 L1501.8,1159.0 L1504.8,1159.5 L1507.7,1160.1 L1510.7,1160.6 L1513.7,1161.1 L1516.6,1161.6 L1519.6,1162.1 L1522.5,1162.6 L1525.5,1163.1 L1528.5,1163.6 L1531.5,1164.0 L1534.4,1164.5 L1537.4,1164.9 L1540.4,1165.4 L1543.4,1165.8 L1546.4,1166.2 L1549.3,1166.6 L1552.3,1167.0 L1555.3,1167.4 L1558.3,1167.7 L1561.3,1168.1 L1564.3,1168.5 L1567.3,1168.8 L1570.3,1169.2 L1573.3,1169.5 L1576.3,1169.8 L1579.3,1170.1 L1582.3,1170.5 L1585.3,1170.8 L1588.3,1171.1 L1591.3,1171.4 L1594.3,1171.7 L1597.3,1172.0 L1600.3,1172.3 L1603.3,1172.5 L1606.3,1172.8 L1609.3,1173.1 L1612.3,1173.4 L1615.2,1173.6 L1618.2,1173.9 L1621.2,1174.2 L1624.2,1174.4 L1627.2,1174.7 L1630.2,1174.9 L1633.2,1175.2 L1636.2,1175.4 L1639.2,1175.7 L1642.2,1176.0 L1645.2,1176.2 L1648.2,1176.5 L1651.2,1176.7 L1654.2,1177.0 L1657.2,1177.2 L1660.2,1177.5 L1663.1,1177.7 L1666.1,1178.0 L1669.1,1178.2 L1672.1,1178.5 L1675.1,1178.7 L1678.0,1179.0 L1681.0,1179.3 L1684.0,1179.5 L1687.0,1179.8 L1689.9,1180.1 L1695.4,1207.0" stroke="#f00" stroke-width="15"/>
<path d="M322.7,1141.1 L323.9,1138.3 L325.0,1135.5 L326.2,1132.7 L327.4,1130.0 L328.6,1127.2 L329.8,1124.4 L331.0,1121.7 L332.3,1118.9 L333.5,1116.2 L334.8,1113.5 L336.0,1110.7 L337.3,1108.0 L338.6,1105.3 L339.8,1102.6 L341.1,1099.9 L342.4,1097.2 L343.7,1094.5 L345.0,1091.8 L346.3,1089.1 L347.7,1086.4 L349.0,1083.7 L350.3,1081.0 L351.7,1078.3 L353.0,1075.6 L354.4,1072.9 L355.7,1070.3 L357.1,1067.6 L358.5,1064.9 L359.8,1062.3 L361.2,1059.6 L362.6,1056.9 L364.0,1054.3 L365.4,1051.6 L366.8,1048.9 L368.2,1046.3 L369.6,1043.6 L371.0,1041.0 L372.4,1038.3 L373.8,1035.7 L375.2,1033.0 L376.6,1030.3 L378.1,1027.7 L379.5,1025.0 L380.9,1022.4 L382.3,1019.7 L383.8,1017.1 L385.2,1014.4 L386.6,1011.8 L388.1,1009.1 L389.5,1006.5 L391.0,1003.8 L392.4,1001.2 L393.9,998.6 L395.4,995.9 L396.9,993.3 L398.4,990.7 L399.9,988.2 L401.5,985.6 L403.0,983.0 L404.6,980.5 L406.2,978.0 L407.9,975.5 L409.5,973.0 L411.2,970.5 L412.9,968.1 L414.6,965.7 L416.3,963.3 L418.1,960.9 L419.8,958.4 L421.5,956.0 L423.2,953.6 L424.9,951.1 L426.5,948.6 L428.2,946.1 L429.7,943.5 L431.3,940.9 L432.8,938.3 L434.3,935.7 L435.7,933.0 L437.2,930.3 L438.6,927.7 L440.0,925.0 L441.4,922.2 L442.8,919.5 L444.2,916.8 L445.6,914.1 L447.0,911.4 L448.4,908.7 L449.8,906.0 L451.2,903.3 L452.7,900.6 L454.1,897.9 L455.6,895.3 L457.1,892.6 L458.6,890.0 L460.1,887.4 L461.7,884.9 L463.3,882.4 L464.9,879.9 L466.6,877.4 L468.3,875.0 L470.1,872.6 L471.9,870.3 L473.7,868.0 L475.7,865.7 L477.6,863.5 L479.6,861.4 L481.6,859.3 L483.7,857.2 L485.9,855.1 L488.0,853.1 L490.2,851.2 L492.5,849.2 L494.7,847.3 L497.1,845.5 L499.4,843.7 L501.8,841.9 L504.2,840.1 L506.6,838.4 L509.1,836.7 L511.6,835.1 L514.1,833.4 L516.7,831.8 L519.2,830.3 L521.8,828.7 L524.5,827.2 L527.1,825.7 L529.8,824.3 L532.4,822.8 L535.1,821.4 L537.8,820.0 L540.6,818.7 L543.3,817.3 L546.1,816.0 L548.8,814.7 L551.6,813.4 L554.4,812.2 L557.2,810.9 L560.0,809.7 L562.8,808.5 L565.6,807.3 L568.4,806.1 L571.2,805.0 L574.0,803.8 L576.9,802.7 L579.7,801.6 L582.5,800.5 L585.3,799.4 L588.1,798.3 L590.9,797.2 L593.7,796.1 L596.5,795.0 L599.2,793.9 L602.0,792.8 L604.8,791.7 L607.5,790.6 L610.3,789.5 L613.0,788.4 L615.8,787.3 L618.5,786.1 L621.2,784.9 L623.9,783.7 L626.6,782.5 L629.3,781.3 L631.9,780.0 L634.6,778.7 L637.2,777.4 L639.8,776.0 L642.4,774.6 L645.0,773.1 L647.6,771.6 L650.2,770.1 L652.7,768.5 L655.2,766.9 L657.7,765.2 L660.2,763.5 L662.7,761.7 L665.1,759.9 L667.6,758.0 L669.9,756.0 L672.3,754.0 L674.6,752.0 L676.8,749.9 L679.0,747.7 L681.2,745.6 L683.3,743.3 L685.3,741.1 L687.2,738.8 L689.1,736.4 L690.9,734.1 L692.6,731.6 L694.3,729.2 L695.8,726.6 L697.3,724.1 L698.7,721.5 L700.0,718.9 L701.3,716.2 L702.6,713.5 L703.8,710.8 L705.0,708.1 L706.2,705.3 L707.4,702.6 L708.5,699.9 L709.7,697.1 L710.9,694.4 L712.2,691.7 L713.4,688.9 L714.6,686.2 L715.9,683.5 L717.1,680.7 L718.4,678.0 L719.7,675.3 L721.0,672.6 L722.3,669.9 L723.6,667.2 L724.9,664.4 L726.2,661.7 L727.5,659.0 L728.8,656.3 L730.1,653.6 L731.5,650.9 L732.8,648.2 L734.1,645.5 L735.5,642.8 L736.8,640.1 L738.2,637.4 L739.5,634.7 L740.9,632.0 L742.2,629.3 L743.5,626.6 L744.9,623.9 L746.2,621.2 L747.5,618.4 L748.9,615.7 L750.2,613.0 L751.5,610.3 L752.8,607.6 L754.1,604.9 L755.4,602.2 L756.7,599.5 L758.0,596.8 L759.3,594.1 L760.6,591.3 L761.8,588.6 L763.1,585.9 L764.4,583.2 L765.6,580.5 L766.9,577.8 L768.2,575.1 L769.4,572.4 L770.7,569.7 L772.0,567.0 L773.3,564.3 L774.6,561.6 L775.9,558.9 L777.2,556.2 L778.5,553.5 L779.8,550.8 L781.2,548.2 L782.5,545.5 L783.9,542.9 L785.3,540.2 L786.7,537.6 L788.1,535.0 L789.6,532.3 L791.0,529.7 L792.5,527.1 L794.0,524.5 L795.5,522.0 L797.1,519.4 L798.7,516.8 L800.3,514.3 L801.9,511.8 L803.6,509.2 L805.2,506.7 L807.0,504.2 L808.7,501.8 L810.5,499.3 L812.3,496.9 L814.2,494.4 L816.1,492.0 L818.0,489.6 L820.0,487.2 L822.0,484.9 L824.0,482.5 L826.1,480.2 L828.3,478.0 L830.4,475.8 L832.7,473.7 L835.0,471.8 L837.4,469.9 L839.8,468.2 L842.3,466.6 L844.9,465.1 L847.5,463.8 L850.3,462.7 L853.1,461.8 L855.9,461.1 L858.8,460.6 L861.7,460.3 L864.7,460.3 L867.6,460.5 L870.5,460.9 L873.4,461.5 L876.3,462.3 L879.1,463.3 L881.9,464.4 L884.5,465.7 L887.1,467.2 L889.6,468.8 L891.9,470.5 L894.2,472.4 L896.3,474.4 L898.3,476.5 L900.3,478.6 L902.1,480.9 L903.9,483.3 L905.6,485.7 L907.2,488.2 L908.8,490.8 L910.3,493.4 L911.8,496.1 L913.2,498.8 L914.6,501.5 L916.0,504.3 L917.3,507.0 L918.7,509.8 L920.0,512.6 L921.3,515.4 L922.6,518.2 L923.9,520.9 L925.2,523.7 L926.4,526.5 L927.7,529.3 L928.9,532.1 L930.2,534.9 L931.4,537.6 L932.6,540.4 L933.8,543.2 L935.0,546.0 L936.2,548.8 L937.4,551.6 L938.6,554.3 L939.8,557.1 L940.9,559.9 L942.1,562.7 L943.3,565.5 L944.4,568.3 L945.5,571.1 L946.7,573.9 L947.8,576.7 L948.9,579.4 L950.0,582.2 L951.1,585.0 L952.2,587.8 L953.3,590.6 L954.4,593.4 L955.5,596.2 L956.6,599.0 L957.6,601.8 L958.7,604.6 L959.8,607.4 L960.8,610.2 L961.9,613.0 L963.0,615.8 L964.0,618.6 L965.1,621.4 L966.1,624.2 L967.1,627.0 L968.2,629.8 L969.2,632.6 L970.2,635.4 L971.3,638.2 L972.3,641.0 L973.3,643.8 L974.3,646.6 L975.4,649.4 L976.4,652.2 L977.4,655.0 L978.4,657.8 L979.4,660.6 L980.4,663.4 L981.5,666.3 L982.5,669.1 L983.5,671.9 L984.5,674.7 L985.5,677.5 L986.5,680.3 L987.5,683.2 L988.6,686.0 L989.6,688.8 L990.6,691.6 L991.6,694.4 L992.6,697.3 L993.6,700.1 L994.7,702.9 L995.7,705.7 L996.7,708.5 L997.7,711.4 L998.8,714.2 L999.8,717.0 L1000.8,719.8 L1001.8,722.7 L1002.9,725.5 L1003.9,728.3 L1004.9,731.1 L1006.0,733.9 L1007.0,736.8 L1008.0,739.6 L1009.1,742.4 L1010.1,745.2 L1011.2,748.1 L1012.2,750.9 L1013.3,753.7 L1014.3,756.5 L1015.4,759.3 L1016.4,762.2 L1017.5,765.0 L1018.6,767.8 L1019.7,770.6 L1020.7,773.4 L1021.8,776.2 L1022.9,779.0 L1024.0,781.9 L1025.1,784.7 L1026.1,787.5 L1027.2,790.3 L1028.3,793.1 L1029.4,795.9 L1030.6,798.7 L1031.7,801.5 L1032.8,804.3 L1033.9,807.1 L1035.0,809.9 L1036.2,812.7 L1037.3,815.5 L1038.4,818.3 L1039.6,821.1 L1040.7,823.9 L1041.9,826.6 L1043.0,829.4 L1044.2,832.2 L1045.4,835.0 L1046.6,837.8 L1047.7,840.5 L1048.9,843.3 L1050.1,846.1 L1051.3,848.9 L1052.5,851.6 L1053.7,854.4 L1055.0,857.1 L1056.2,859.9 L1057.4,862.7 L1058.7,865.4 L1059.9,868.1 L1061.2,870.9 L1062.5,873.6 L1063.7,876.3 L1065.0,879.1 L1066.3,881.8 L1067.7,884.5 L1069.0,887.2 L1070.4,889.8 L1071.7,892.5 L1073.1,895.2 L1074.5,897.8 L1075.9,900.5 L1077.3,903.1 L1078.8,905.7 L1080.2,908.3 L1081.7,910.9 L1083.2,913.5 L1084.8,916.1 L1086.3,918.6 L1087.9,921.2 L1089.4,923.7 L1091.1,926.2 L1092.7,928.7 L1094.3,931.2 L1096.0,933.6 L1097.7,936.1 L1099.5,938.5 L1101.2,940.9 L1103.0,943.3 L1104.8,945.6 L1106.6,948.0 L1108.5,950.3 L1110.4,952.6 L1112.3,954.9 L1114.2,957.2 L1116.1,959.5 L1118.1,961.7 L1120.1,963.9 L1122.1,966.1 L1124.2,968.3 L1126.2,970.5 L1128.3,972.7 L1130.4,974.8 L1132.5,977.0 L1134.6,979.1 L1136.8,981.2 L1138.9,983.3 L1141.1,985.3 L1143.3,987.4 L1145.5,989.5 L1147.8,991.5 L1150.0,993.5 L1152.3,995.5 L1154.5,997.5 L1156.8,999.5 L1159.1,1001.5 L1161.4,1003.4 L1163.7,1005.4 L1166.1,1007.3 L1168.4,1009.3 L1170.8,1011.2 L1173.1,1013.1 L1175.5,1015.0 L1177.9,1016.9 L1180.2,1018.8 L1182.6,1020.6 L1185.0,1022.5 L1187.4,1024.3 L1189.9,1026.2 L1192.3,1028.0 L1194.7,1029.8 L1197.1,1031.7 L1199.6,1033.5 L1202.0,1035.3 L1204.4,1037.1 L1206.9,1038.9 L1209.3,1040.6 L1211.7,1042.4 L1214.2,1044.2 L1216.6,1046.0 L1219.1,1047.7 L1221.5,1049.5 L1224.0,1051.2 L1226.4,1052.9 L1228.9,1054.7 L1231.4,1056.4 L1233.8,1058.1 L1236.3,1059.8 L1238.8,1061.5 L1241.2,1063.2 L1243.7,1064.8 L1246.2,1066.5 L1248.7,1068.2 L1251.2,1069.8 L1253.7,1071.4 L1256.2,1073.0 L1258.7,1074.6 L1261.2,1076.2 L1263.8,1077.8 L1266.3,1079.4 L1268.8,1080.9 L1271.4,1082.5 L1274.0,1084.0 L1276.5,1085.5 L1279.1,1087.0 L1281.7,1088.5 L1284.3,1090.0 L1286.9,1091.4 L1289.5,1092.9 L1292.1,1094.3 L1294.8,1095.7 L1297.4,1097.1 L1300.1,1098.5 L1302.7,1099.8 L1305.4,1101.2 L1308.1,1102.5 L1310.8,1103.8 L1313.5,1105.1 L1316.2,1106.4 L1318.9,1107.6 L1321.7,1108.9 L1324.4,1110.1 L1327.2,1111.3 L1329.9,1112.5 L1332.7,1113.7 L1335.5,1114.9 L1338.3,1116.1 L1341.1,1117.2 L1343.8,1118.3 L1346.7,1119.5 L1349.5,1120.6 L1352.3,1121.7 L1355.1,1122.8 L1357.9,1123.9 L1360.7,1124.9 L1363.6,1126.0 L1366.4,1127.1 L1369.2,1128.1 L1372.1,1129.2 L1374.9,1130.2 L1377.8,1131.2 L1380.6,1132.2 L1383.5,1133.2 L1386.3,1134.2 L1389.2,1135.2 L1392.0,1136.2 L1394.9,1137.2 L1397.7,1138.1 L1400.6,1139.1 L1403.5,1140.1 L1406.3,1141.0 L1409.2,1141.9 L1412.0,1142.9 L1414.9,1143.8 L1417.8,1144.7 L1420.6,1145.6 L1423.5,1146.5 L1426.4,1147.4 L1429.2,1148.3 L1432.1,1149.2 L1435.0,1150.0 L1437.9,1150.9 L1440.7,1151.7 L1443.6,1152.6 L1446.5,1153.4 L1449.4,1154.2 L1452.3,1155.0 L1455.2,1155.8 L1458.1,1156.6 L1460.9,1157.4 L1463.8,1158.1 L1466.7,1158.9 L1469.6,1159.6 L1472.5,1160.3 L1475.5,1161.1 L1478.4,1161.8 L1481.3,1162.5 L1484.2,1163.1 L1487.1,1163.8 L1490.0,1164.5 L1492.9,1165.1 L1495.9,1165.7 L1498.8,1166.3 L1501.7,1167.0 L1504.7,1167.5 L1507.6,1168.1 L1510.5,1168.7 L1513.5,1169.2 L1516.4,1169.8 L1519.4,1170.3 L1522.3,1170.8 L1525.3,1171.3 L1528.3,1171.8 L1531.2,1172.3 L1534.2,1172.7 L1537.2,1173.2 L1540.1,1173.6 L1543.1,1174.0 L1546.1,1174.4 L1549.1,1174.8 L1552.1,1175.2 L1555.1,1175.6 L1558.0,1175.9 L1561.0,1176.3 L1564.0,1176.6 L1567.0,1177.0 L1570.0,1177.3 L1573.0,1177.6 L1576.0,1177.9 L1579.0,1178.2 L1582.0,1178.5 L1585.0,1178.8 L1588.0,1179.0 L1591.0,1179.3 L1594.0,1179.6 L1597.1,1179.8 L1600.1,1180.1 L1603.1,1180.3 L1606.1,1180.5 L1609.1,1180.8 L1612.1,1181.0 L1615.1,1181.2 L1618.1,1181.4 L1621.1,1181.6 L1624.1,1181.9 L1627.1,1182.1 L1630.1,1182.3 L1633.1,1182.5 L1636.1,1182.7 L1639.1,1182.9 L1642.1,1183.0 L1645.1,1183.2 L1648.1,1183.4 L1651.1,1183.6 L1654.1,1183.8 L1657.1,1184.0 L1660.1,1184.2 L1663.1,1184.4 L1666.1,1184.6 L1669.1,1184.7 L1672.1,1184.9 L1675.1,1185.1 L1678.0,1185.3 L1681.0,1185.5 L1684.0,1185.7 L1687.0,1185.9 L1689.9,1186.1 L1695.4,1207.0" stroke="#000" stroke-width="15"/>
<path d="M322.7,1141.0 L323.9,1138.3 L325.1,1135.5 L326.3,1132.8 L327.6,1130.0 L328.8,1127.3 L330.0,1124.6 L331.3,1121.8 L332.6,1119.1 L333.8,1116.4 L335.1,1113.6 L336.4,1110.9 L337.7,1108.2 L338.9,1105.5 L340.2,1102.8 L341.5,1100.1 L342.9,1097.4 L344.2,1094.6 L345.5,1091.9 L346.8,1089.2 L348.2,1086.5 L349.5,1083.8 L350.8,1081.2 L352.2,1078.5 L353.5,1075.8 L354.9,1073.1 L356.3,1070.4 L357.6,1067.7 L359.0,1065.1 L360.4,1062.4 L361.8,1059.7 L363.2,1057.0 L364.6,1054.4 L366.0,1051.7 L367.4,1049.0 L368.8,1046.4 L370.2,1043.7 L371.6,1041.1 L373.1,1038.4 L374.5,1035.8 L375.9,1033.1 L377.4,1030.5 L378.8,1027.9 L380.3,1025.2 L381.7,1022.6 L383.2,1020.0 L384.6,1017.3 L386.1,1014.7 L387.6,1012.1 L389.0,1009.5 L390.5,1006.8 L392.0,1004.2 L393.5,1001.6 L395.0,999.0 L396.6,996.4 L398.1,993.9 L399.6,991.3 L401.2,988.7 L402.8,986.2 L404.3,983.6 L406.0,981.1 L407.6,978.6 L409.2,976.1 L410.9,973.6 L412.5,971.1 L414.2,968.6 L415.9,966.1 L417.6,963.7 L419.3,961.2 L421.1,958.8 L422.8,956.3 L424.5,953.8 L426.2,951.4 L427.9,948.9 L429.5,946.4 L431.2,943.8 L432.8,941.3 L434.4,938.7 L436.0,936.1 L437.6,933.6 L439.2,931.0 L440.8,928.4 L442.4,925.8 L444.0,923.2 L445.6,920.6 L447.2,918.0 L448.7,915.4 L450.3,912.9 L451.9,910.3 L453.6,907.7 L455.2,905.2 L456.8,902.7 L458.5,900.1 L460.2,897.6 L461.9,895.2 L463.6,892.7 L465.3,890.3 L467.1,887.9 L468.9,885.5 L470.8,883.2 L472.6,880.8 L474.5,878.6 L476.5,876.3 L478.4,874.1 L480.5,871.9 L482.5,869.8 L484.6,867.7 L486.8,865.7 L489.0,863.7 L491.2,861.8 L493.5,859.9 L495.9,858.0 L498.3,856.2 L500.7,854.5 L503.2,852.8 L505.7,851.1 L508.2,849.4 L510.8,847.8 L513.4,846.2 L516.0,844.7 L518.6,843.2 L521.2,841.6 L523.9,840.2 L526.5,838.7 L529.2,837.2 L531.8,835.8 L534.5,834.4 L537.2,833.1 L539.9,831.7 L542.6,830.4 L545.3,829.1 L548.1,827.8 L550.8,826.6 L553.6,825.3 L556.3,824.1 L559.1,823.0 L561.9,821.8 L564.7,820.7 L567.5,819.6 L570.3,818.6 L573.1,817.6 L576.0,816.6 L578.8,815.6 L581.7,814.7 L584.6,813.8 L587.4,812.9 L590.3,812.1 L593.2,811.2 L596.1,810.4 L599.0,809.6 L601.9,808.8 L604.8,808.0 L607.7,807.1 L610.6,806.3 L613.5,805.5 L616.4,804.6 L619.3,803.7 L622.2,802.8 L625.1,801.9 L627.9,801.0 L630.8,800.0 L633.6,798.9 L636.4,797.9 L639.2,796.7 L641.9,795.6 L644.6,794.4 L647.3,793.1 L650.0,791.8 L652.6,790.4 L655.2,789.0 L657.8,787.5 L660.3,785.9 L662.8,784.2 L665.2,782.5 L667.6,780.7 L669.9,778.8 L672.2,776.9 L674.5,774.9 L676.7,772.9 L678.9,770.8 L681.1,768.7 L683.2,766.6 L685.2,764.4 L687.3,762.2 L689.3,760.0 L691.3,757.7 L693.3,755.4 L695.2,753.1 L697.1,750.8 L699.0,748.4 L700.8,746.0 L702.6,743.6 L704.4,741.2 L706.2,738.8 L708.0,736.3 L709.7,733.8 L711.5,731.4 L713.2,728.9 L714.9,726.4 L716.5,723.8 L718.2,721.3 L719.8,718.8 L721.5,716.2 L723.1,713.7 L724.7,711.2 L726.3,708.6 L727.9,706.1 L729.5,703.5 L731.1,701.0 L732.7,698.4 L734.3,695.9 L736.0,693.4 L737.6,690.8 L739.2,688.3 L740.9,685.8 L742.5,683.3 L744.2,680.8 L745.9,678.4 L747.6,675.9 L749.4,673.5 L751.1,671.0 L752.9,668.6 L754.7,666.2 L756.5,663.8 L758.3,661.4 L760.1,659.0 L761.9,656.6 L763.7,654.2 L765.5,651.8 L767.2,649.4 L769.0,646.9 L770.7,644.5 L772.4,642.0 L774.0,639.6 L775.7,637.1 L777.3,634.6 L778.8,632.1 L780.4,629.5 L781.9,627.0 L783.4,624.4 L784.9,621.9 L786.4,619.3 L787.9,616.7 L789.4,614.1 L790.9,611.5 L792.4,608.9 L794.0,606.3 L795.6,603.7 L797.1,601.1 L798.8,598.5 L800.4,595.9 L802.1,593.3 L803.8,590.7 L805.6,588.2 L807.4,585.7 L809.3,583.2 L811.2,580.8 L813.1,578.4 L815.1,576.1 L817.2,573.8 L819.3,571.7 L821.5,569.6 L823.7,567.6 L826.0,565.7 L828.3,563.9 L830.7,562.2 L833.2,560.7 L835.7,559.2 L838.3,557.9 L841.0,556.8 L843.8,555.8 L846.6,554.9 L849.5,554.2 L852.5,553.7 L855.5,553.3 L858.5,553.1 L861.6,553.1 L864.6,553.2 L867.6,553.4 L870.6,553.9 L873.6,554.5 L876.5,555.3 L879.3,556.2 L882.0,557.3 L884.7,558.6 L887.3,560.0 L889.8,561.6 L892.2,563.3 L894.5,565.1 L896.7,567.0 L898.9,569.1 L901.0,571.2 L903.1,573.5 L905.1,575.8 L907.0,578.2 L908.8,580.6 L910.6,583.1 L912.3,585.7 L914.0,588.2 L915.6,590.8 L917.2,593.5 L918.7,596.1 L920.1,598.8 L921.6,601.5 L922.9,604.2 L924.3,606.9 L925.6,609.6 L926.9,612.3 L928.1,615.1 L929.3,617.8 L930.5,620.6 L931.7,623.4 L932.9,626.1 L934.1,628.9 L935.2,631.7 L936.4,634.5 L937.5,637.2 L938.7,640.0 L939.8,642.8 L941.0,645.6 L942.2,648.3 L943.4,651.1 L944.6,653.8 L945.8,656.6 L947.1,659.3 L948.4,662.0 L949.7,664.7 L951.0,667.4 L952.3,670.1 L953.7,672.8 L955.1,675.5 L956.4,678.2 L957.8,680.9 L959.1,683.6 L960.5,686.2 L961.8,688.9 L963.1,691.6 L964.5,694.3 L965.8,697.0 L967.1,699.7 L968.4,702.4 L969.7,705.1 L971.0,707.8 L972.3,710.6 L973.5,713.3 L974.8,716.0 L976.1,718.7 L977.3,721.4 L978.6,724.1 L979.9,726.9 L981.1,729.6 L982.3,732.3 L983.6,735.0 L984.8,737.8 L986.0,740.5 L987.3,743.3 L988.5,746.0 L989.7,748.7 L990.9,751.5 L992.1,754.2 L993.3,757.0 L994.5,759.7 L995.7,762.5 L996.9,765.2 L998.1,768.0 L999.3,770.7 L1000.5,773.5 L1001.7,776.3 L1002.8,779.0 L1004.0,781.8 L1005.2,784.6 L1006.4,787.3 L1007.5,790.1 L1008.7,792.9 L1009.9,795.6 L1011.0,798.4 L1012.2,801.2 L1013.3,804.0 L1014.5,806.8 L1015.6,809.5 L1016.8,812.3 L1018.0,815.1 L1019.1,817.9 L1020.3,820.7 L1021.4,823.5 L1022.5,826.3 L1023.7,829.1 L1024.8,831.9 L1026.0,834.7 L1027.2,837.5 L1028.3,840.3 L1029.5,843.0 L1030.6,845.8 L1031.8,848.6 L1033.0,851.4 L1034.2,854.2 L1035.4,857.0 L1036.6,859.7 L1037.8,862.5 L1039.0,865.3 L1040.2,868.0 L1041.4,870.8 L1042.7,873.5 L1043.9,876.3 L1045.2,879.0 L1046.5,881.7 L1047.8,884.5 L1049.1,887.2 L1050.4,889.9 L1051.8,892.6 L1053.1,895.2 L1054.5,897.9 L1055.9,900.6 L1057.3,903.2 L1058.7,905.9 L1060.2,908.5 L1061.6,911.1 L1063.1,913.7 L1064.6,916.3 L1066.2,918.9 L1067.7,921.4 L1069.3,924.0 L1070.9,926.5 L1072.5,929.0 L1074.2,931.5 L1075.8,934.0 L1077.5,936.5 L1079.3,938.9 L1081.0,941.3 L1082.8,943.8 L1084.6,946.2 L1086.4,948.6 L1088.2,950.9 L1090.0,953.3 L1091.9,955.7 L1093.8,958.0 L1095.7,960.3 L1097.6,962.6 L1099.6,964.9 L1101.5,967.2 L1103.5,969.4 L1105.5,971.7 L1107.6,973.9 L1109.6,976.1 L1111.7,978.3 L1113.7,980.5 L1115.8,982.6 L1117.9,984.8 L1120.1,986.9 L1122.2,989.1 L1124.4,991.2 L1126.5,993.3 L1128.7,995.3 L1130.9,997.4 L1133.1,999.5 L1135.4,1001.5 L1137.6,1003.5 L1139.9,1005.5 L1142.1,1007.5 L1144.4,1009.5 L1146.7,1011.4 L1149.0,1013.4 L1151.4,1015.3 L1153.7,1017.2 L1156.0,1019.1 L1158.4,1021.0 L1160.8,1022.9 L1163.1,1024.8 L1165.5,1026.6 L1167.9,1028.4 L1170.3,1030.2 L1172.8,1032.1 L1175.2,1033.8 L1177.6,1035.6 L1180.1,1037.4 L1182.5,1039.1 L1185.0,1040.8 L1187.4,1042.6 L1189.9,1044.3 L1192.4,1046.0 L1194.9,1047.6 L1197.4,1049.3 L1199.9,1051.0 L1202.4,1052.6 L1204.9,1054.3 L1207.4,1055.9 L1209.9,1057.5 L1212.5,1059.1 L1215.0,1060.7 L1217.5,1062.3 L1220.1,1063.9 L1222.6,1065.5 L1225.2,1067.1 L1227.7,1068.7 L1230.3,1070.3 L1232.8,1071.9 L1235.4,1073.5 L1237.9,1075.1 L1240.5,1076.6 L1243.0,1078.2 L1245.6,1079.8 L1248.2,1081.4 L1250.8,1082.9 L1253.3,1084.5 L1255.9,1086.1 L1258.5,1087.6 L1261.1,1089.2 L1263.7,1090.7 L1266.3,1092.2 L1268.9,1093.7 L1271.5,1095.2 L1274.2,1096.6 L1276.8,1098.1 L1279.4,1099.5 L1282.1,1100.9 L1284.8,1102.3 L1287.4,1103.7 L1290.1,1105.0 L1292.8,1106.3 L1295.6,1107.6 L1298.3,1108.8 L1301.0,1110.0 L1303.8,1111.2 L1306.6,1112.4 L1309.4,1113.5 L1312.2,1114.6 L1315.0,1115.6 L1317.8,1116.7 L1320.6,1117.7 L1323.5,1118.7 L1326.3,1119.7 L1329.2,1120.6 L1332.0,1121.5 L1334.9,1122.5 L1337.8,1123.4 L1340.7,1124.3 L1343.5,1125.1 L1346.4,1126.0 L1349.3,1126.9 L1352.2,1127.7 L1355.1,1128.6 L1358.0,1129.4 L1360.9,1130.3 L1363.8,1131.1 L1366.7,1131.9 L1369.6,1132.7 L1372.5,1133.5 L1375.4,1134.3 L1378.3,1135.1 L1381.2,1135.9 L1384.1,1136.7 L1387.0,1137.5 L1389.9,1138.2 L1392.9,1139.0 L1395.8,1139.7 L1398.7,1140.5 L1401.6,1141.2 L1404.5,1142.0 L1407.4,1142.7 L1410.4,1143.4 L1413.3,1144.1 L1416.2,1144.8 L1419.1,1145.5 L1422.1,1146.2 L1425.0,1146.9 L1427.9,1147.6 L1430.9,1148.2 L1433.8,1148.9 L1436.7,1149.6 L1439.7,1150.2 L1442.6,1150.9 L1445.5,1151.5 L1448.5,1152.1 L1451.4,1152.8 L1454.4,1153.4 L1457.3,1154.0 L1460.3,1154.6 L1463.2,1155.2 L1466.1,1155.8 L1469.1,1156.4 L1472.0,1156.9 L1475.0,1157.5 L1477.9,1158.1 L1480.9,1158.6 L1483.9,1159.2 L1486.8,1159.7 L1489.8,1160.3 L1492.7,1160.8 L1495.7,1161.3 L1498.6,1161.9 L1501.6,1162.4 L1504.6,1162.9 L1507.5,1163.4 L1510.5,1163.9 L1513.5,1164.3 L1516.4,1164.8 L1519.4,1165.3 L1522.4,1165.8 L1525.3,1166.2 L1528.3,1166.7 L1531.3,1167.1 L1534.3,1167.6 L1537.2,1168.0 L1540.2,1168.4 L1543.2,1168.8 L1546.2,1169.3 L1549.1,1169.7 L1552.1,1170.1 L1555.1,1170.5 L1558.1,1170.8 L1561.1,1171.2 L1564.0,1171.6 L1567.0,1172.0 L1570.0,1172.3 L1573.0,1172.7 L1576.0,1173.0 L1579.0,1173.4 L1582.0,1173.7 L1584.9,1174.0 L1587.9,1174.4 L1590.9,1174.7 L1593.9,1175.0 L1596.9,1175.3 L1599.9,1175.6 L1602.9,1175.9 L1605.9,1176.2 L1608.9,1176.4 L1611.9,1176.7 L1614.9,1177.0 L1617.9,1177.2 L1620.9,1177.5 L1623.9,1177.7 L1626.9,1178.0 L1629.9,1178.2 L1632.9,1178.4 L1635.9,1178.6 L1638.9,1178.8 L1641.9,1179.1 L1644.9,1179.3 L1647.9,1179.5 L1650.9,1179.6 L1653.9,1179.8 L1656.9,1180.0 L1659.9,1180.2 L1663.0,1180.3 L1666.0,1180.5 L1669.0,1180.6 L1672.0,1180.8 L1675.0,1180.9 L1678.0,1181.0 L1681.0,1181.2 L1684.0,1181.3 L1687.1,1181.4 L1690.1,1181.5 L1695.4,1207.0" stroke="#f00" stroke-width="15"/>
<path d="M322.5,1140.9 L323.8,1138.2 L325.1,1135.5 L326.4,1132.8 L327.7,1130.1 L329.0,1127.4 L330.3,1124.7 L331.6,1122.0 L332.9,1119.3 L334.2,1116.6 L335.5,1113.9 L336.8,1111.2 L338.1,1108.5 L339.4,1105.8 L340.7,1103.0 L342.0,1100.3 L343.3,1097.6 L344.6,1094.9 L345.9,1092.2 L347.3,1089.5 L348.6,1086.8 L349.9,1084.1 L351.2,1081.4 L352.6,1078.7 L353.9,1076.0 L355.3,1073.3 L356.6,1070.6 L358.0,1067.9 L359.3,1065.2 L360.7,1062.5 L362.1,1059.8 L363.4,1057.1 L364.8,1054.5 L366.2,1051.8 L367.6,1049.1 L369.0,1046.5 L370.4,1043.8 L371.8,1041.1 L373.2,1038.5 L374.7,1035.8 L376.1,1033.2 L377.5,1030.5 L379.0,1027.9 L380.4,1025.3 L381.9,1022.6 L383.4,1020.0 L384.9,1017.4 L386.4,1014.8 L387.9,1012.2 L389.4,1009.6 L390.9,1007.0 L392.4,1004.4 L394.0,1001.9 L395.5,999.3 L397.1,996.7 L398.7,994.2 L400.3,991.6 L401.9,989.1 L403.5,986.6 L405.1,984.0 L406.7,981.5 L408.4,979.0 L410.0,976.5 L411.7,974.0 L413.4,971.6 L415.1,969.1 L416.8,966.6 L418.5,964.2 L420.2,961.7 L421.9,959.3 L423.6,956.8 L425.3,954.3 L427.0,951.9 L428.7,949.4 L430.4,946.8 L432.1,944.3 L433.8,941.8 L435.4,939.2 L437.1,936.7 L438.7,934.1 L440.4,931.5 L442.0,929.0 L443.7,926.4 L445.3,923.8 L447.0,921.3 L448.6,918.7 L450.3,916.2 L452.0,913.6 L453.7,911.1 L455.4,908.6 L457.1,906.1 L458.8,903.6 L460.6,901.2 L462.4,898.8 L464.2,896.4 L466.0,894.0 L467.9,891.7 L469.7,889.4 L471.7,887.1 L473.6,884.9 L475.6,882.7 L477.6,880.5 L479.7,878.4 L481.7,876.3 L483.9,874.3 L486.0,872.3 L488.2,870.4 L490.5,868.4 L492.7,866.5 L495.0,864.7 L497.4,862.8 L499.7,861.0 L502.1,859.2 L504.6,857.5 L507.0,855.7 L509.5,854.1 L512.0,852.4 L514.5,850.8 L517.1,849.2 L519.7,847.6 L522.3,846.0 L524.9,844.5 L527.6,843.1 L530.2,841.6 L532.9,840.2 L535.6,838.8 L538.4,837.4 L541.1,836.1 L543.9,834.8 L546.6,833.6 L549.4,832.4 L552.2,831.2 L555.0,830.0 L557.9,828.9 L560.7,827.8 L563.5,826.7 L566.4,825.7 L569.2,824.7 L572.1,823.7 L575.0,822.8 L577.8,821.9 L580.7,821.1 L583.6,820.2 L586.5,819.5 L589.4,818.7 L592.3,818.0 L595.1,817.3 L598.0,816.6 L600.9,816.0 L603.8,815.4 L606.8,814.8 L609.7,814.2 L612.6,813.6 L615.5,813.1 L618.5,812.6 L621.4,812.1 L624.4,811.7 L627.3,811.2 L630.3,810.8 L633.3,810.3 L636.3,809.9 L639.3,809.5 L642.3,809.1 L645.3,808.7 L648.3,808.3 L651.3,807.9 L654.3,807.4 L657.3,806.9 L660.2,806.3 L663.1,805.6 L666.0,804.9 L668.9,804.0 L671.7,803.1 L674.5,802.0 L677.3,800.9 L680.0,799.7 L682.6,798.3 L685.3,797.0 L687.9,795.5 L690.5,794.0 L693.0,792.4 L695.5,790.7 L698.0,789.0 L700.4,787.2 L702.8,785.4 L705.2,783.5 L707.5,781.5 L709.8,779.5 L712.0,777.5 L714.3,775.4 L716.5,773.3 L718.6,771.2 L720.7,769.0 L722.8,766.8 L724.9,764.6 L726.9,762.4 L728.9,760.1 L730.9,757.8 L732.9,755.5 L734.8,753.2 L736.7,750.9 L738.6,748.6 L740.5,746.2 L742.4,743.9 L744.2,741.5 L746.1,739.1 L747.9,736.7 L749.7,734.3 L751.5,732.0 L753.3,729.6 L755.2,727.2 L757.0,724.8 L758.8,722.4 L760.6,720.1 L762.4,717.7 L764.3,715.3 L766.1,713.0 L767.9,710.7 L769.8,708.3 L771.7,706.0 L773.6,703.8 L775.5,701.5 L777.4,699.2 L779.3,696.9 L781.2,694.6 L783.0,692.3 L784.9,690.0 L786.8,687.7 L788.6,685.3 L790.4,682.9 L792.2,680.5 L793.9,678.0 L795.6,675.5 L797.2,672.9 L798.8,670.3 L800.4,667.6 L801.9,664.9 L803.5,662.2 L805.0,659.5 L806.5,656.8 L808.0,654.1 L809.6,651.4 L811.1,648.7 L812.7,646.1 L814.3,643.4 L816.0,640.9 L817.7,638.3 L819.5,635.9 L821.3,633.5 L823.2,631.2 L825.2,628.9 L827.2,626.7 L829.4,624.7 L831.6,622.7 L834.0,620.9 L836.4,619.2 L839.0,617.6 L841.7,616.1 L844.4,614.8 L847.2,613.7 L850.1,612.7 L853.0,611.9 L855.9,611.3 L858.8,610.9 L861.7,610.7 L864.6,610.7 L867.5,610.9 L870.3,611.4 L873.0,612.1 L875.6,613.0 L878.2,614.2 L880.7,615.6 L883.1,617.2 L885.4,619.0 L887.7,620.9 L889.9,623.0 L892.0,625.2 L894.1,627.5 L896.1,630.0 L898.1,632.5 L900.0,635.1 L901.8,637.7 L903.6,640.3 L905.4,643.0 L907.1,645.7 L908.7,648.3 L910.4,650.9 L912.0,653.5 L913.5,656.1 L915.1,658.7 L916.6,661.3 L918.1,663.8 L919.7,666.4 L921.2,668.9 L922.7,671.5 L924.2,674.0 L925.7,676.5 L927.3,679.0 L928.9,681.5 L930.5,684.0 L932.1,686.5 L933.7,689.0 L935.4,691.5 L937.0,694.0 L938.6,696.5 L940.3,699.0 L941.9,701.5 L943.5,704.1 L945.1,706.6 L946.7,709.2 L948.2,711.8 L949.7,714.4 L951.2,717.0 L952.6,719.6 L954.0,722.3 L955.3,725.0 L956.6,727.7 L957.9,730.4 L959.1,733.2 L960.3,736.0 L961.4,738.7 L962.6,741.5 L963.7,744.4 L964.8,747.2 L965.8,750.0 L966.9,752.8 L968.0,755.7 L969.0,758.5 L970.1,761.3 L971.1,764.2 L972.2,767.0 L973.2,769.8 L974.3,772.6 L975.4,775.4 L976.4,778.3 L977.5,781.1 L978.7,783.8 L979.8,786.6 L980.9,789.4 L982.0,792.2 L983.2,795.0 L984.3,797.8 L985.4,800.5 L986.6,803.3 L987.7,806.1 L988.9,808.9 L990.0,811.6 L991.2,814.4 L992.4,817.2 L993.5,819.9 L994.7,822.7 L995.8,825.5 L997.0,828.3 L998.1,831.0 L999.3,833.8 L1000.5,836.6 L1001.6,839.4 L1002.8,842.2 L1004.0,844.9 L1005.1,847.7 L1006.3,850.5 L1007.5,853.2 L1008.7,856.0 L1009.9,858.8 L1011.1,861.5 L1012.3,864.3 L1013.5,867.1 L1014.7,869.8 L1016.0,872.5 L1017.2,875.3 L1018.5,878.0 L1019.7,880.8 L1021.0,883.5 L1022.3,886.2 L1023.6,888.9 L1024.9,891.6 L1026.2,894.3 L1027.6,897.0 L1028.9,899.7 L1030.3,902.4 L1031.7,905.1 L1033.1,907.7 L1034.5,910.4 L1035.9,913.0 L1037.4,915.6 L1038.8,918.3 L1040.3,920.9 L1041.8,923.5 L1043.3,926.1 L1044.9,928.7 L1046.4,931.2 L1048.0,933.8 L1049.6,936.3 L1051.2,938.9 L1052.9,941.4 L1054.5,943.9 L1056.2,946.4 L1057.9,948.9 L1059.6,951.4 L1061.3,953.8 L1063.1,956.3 L1064.8,958.7 L1066.6,961.1 L1068.4,963.6 L1070.3,966.0 L1072.1,968.3 L1073.9,970.7 L1075.8,973.1 L1077.7,975.4 L1079.6,977.8 L1081.5,980.1 L1083.5,982.4 L1085.4,984.7 L1087.4,986.9 L1089.4,989.2 L1091.4,991.5 L1093.4,993.7 L1095.4,995.9 L1097.5,998.1 L1099.6,1000.3 L1101.6,1002.5 L1103.7,1004.7 L1105.9,1006.8 L1108.0,1008.9 L1110.1,1011.0 L1112.3,1013.1 L1114.5,1015.2 L1116.6,1017.3 L1118.8,1019.4 L1121.1,1021.4 L1123.3,1023.4 L1125.5,1025.4 L1127.8,1027.4 L1130.1,1029.4 L1132.3,1031.3 L1134.6,1033.3 L1136.9,1035.2 L1139.3,1037.1 L1141.6,1039.0 L1144.0,1040.9 L1146.3,1042.7 L1148.7,1044.6 L1151.1,1046.4 L1153.5,1048.2 L1155.9,1050.0 L1158.3,1051.8 L1160.7,1053.5 L1163.2,1055.3 L1165.6,1057.0 L1168.1,1058.7 L1170.6,1060.4 L1173.1,1062.1 L1175.6,1063.8 L1178.1,1065.4 L1180.6,1067.1 L1183.1,1068.7 L1185.7,1070.3 L1188.2,1071.9 L1190.8,1073.5 L1193.4,1075.0 L1195.9,1076.6 L1198.5,1078.1 L1201.1,1079.6 L1203.7,1081.1 L1206.4,1082.6 L1209.0,1084.1 L1211.6,1085.6 L1214.3,1087.0 L1216.9,1088.4 L1219.6,1089.9 L1222.2,1091.3 L1224.9,1092.6 L1227.6,1094.0 L1230.3,1095.4 L1233.0,1096.7 L1235.7,1098.1 L1238.4,1099.4 L1241.1,1100.7 L1243.8,1102.0 L1246.6,1103.3 L1249.3,1104.5 L1252.1,1105.8 L1254.8,1107.0 L1257.6,1108.3 L1260.3,1109.5 L1263.1,1110.7 L1265.9,1111.9 L1268.7,1113.0 L1271.4,1114.2 L1274.2,1115.4 L1277.0,1116.5 L1279.8,1117.6 L1282.6,1118.7 L1285.4,1119.8 L1288.2,1120.9 L1291.1,1122.0 L1293.9,1123.1 L1296.7,1124.1 L1299.5,1125.2 L1302.4,1126.2 L1305.2,1127.2 L1308.0,1128.2 L1310.9,1129.2 L1313.7,1130.2 L1316.6,1131.1 L1319.4,1132.1 L1322.3,1133.1 L1325.1,1134.0 L1328.0,1134.9 L1330.9,1135.8 L1333.7,1136.7 L1336.6,1137.6 L1339.5,1138.5 L1342.3,1139.4 L1345.2,1140.2 L1348.1,1141.1 L1351.0,1141.9 L1353.9,1142.7 L1356.8,1143.5 L1359.7,1144.3 L1362.6,1145.1 L1365.5,1145.9 L1368.4,1146.7 L1371.3,1147.5 L1374.2,1148.2 L1377.1,1149.0 L1380.0,1149.7 L1382.9,1150.4 L1385.8,1151.1 L1388.7,1151.8 L1391.7,1152.5 L1394.6,1153.2 L1397.5,1153.9 L1400.4,1154.6 L1403.4,1155.2 L1406.3,1155.9 L1409.2,1156.5 L1412.2,1157.1 L1415.1,1157.8 L1418.1,1158.4 L1421.0,1159.0 L1423.9,1159.6 L1426.9,1160.2 L1429.8,1160.8 L1432.8,1161.3 L1435.7,1161.9 L1438.7,1162.4 L1441.7,1163.0 L1444.6,1163.5 L1447.6,1164.1 L1450.5,1164.6 L1453.5,1165.1 L1456.5,1165.6 L1459.4,1166.1 L1462.4,1166.6 L1465.4,1167.1 L1468.3,1167.6 L1471.3,1168.0 L1474.3,1168.5 L1477.3,1168.9 L1480.2,1169.4 L1483.2,1169.8 L1486.2,1170.3 L1489.2,1170.7 L1492.2,1171.1 L1495.1,1171.5 L1498.1,1171.9 L1501.1,1172.3 L1504.1,1172.7 L1507.1,1173.1 L1510.1,1173.5 L1513.1,1173.9 L1516.1,1174.3 L1519.1,1174.6 L1522.0,1175.0 L1525.0,1175.3 L1528.0,1175.7 L1531.0,1176.0 L1534.0,1176.3 L1537.0,1176.7 L1540.0,1177.0 L1543.0,1177.3 L1546.0,1177.6 L1549.0,1177.9 L1552.0,1178.2 L1555.0,1178.5 L1558.0,1178.8 L1561.0,1179.1 L1564.0,1179.4 L1567.0,1179.7 L1570.0,1180.0 L1573.0,1180.2 L1576.0,1180.5 L1579.0,1180.8 L1582.0,1181.0 L1585.0,1181.3 L1588.0,1181.5 L1591.0,1181.8 L1594.0,1182.0 L1597.0,1182.2 L1600.0,1182.5 L1603.0,1182.7 L1606.0,1182.9 L1609.0,1183.1 L1612.0,1183.4 L1615.0,1183.6 L1618.0,1183.8 L1621.1,1184.0 L1624.1,1184.2 L1627.1,1184.4 L1630.1,1184.6 L1633.1,1184.8 L1636.1,1185.0 L1639.1,1185.2 L1642.1,1185.3 L1645.0,1185.5 L1648.0,1185.7 L1651.0,1185.9 L1654.0,1186.1 L1657.0,1186.2 L1660.0,1186.4 L1663.0,1186.6 L1666.0,1186.8 L1669.0,1186.9 L1672.0,1187.1 L1675.0,1187.2 L1678.0,1187.4 L1681.0,1187.6 L1684.0,1187.7 L1686.9,1187.9 L1689.9,1188.0 L1695.4,1208.0" stroke="#f00" stroke-width="15"/>
<path d="M322.6,1141.0 L323.9,1138.3 L325.2,1135.6 L326.5,1132.9 L327.8,1130.2 L329.1,1127.5 L330.4,1124.8 L331.7,1122.1 L333.0,1119.4 L334.4,1116.7 L335.7,1114.0 L337.0,1111.3 L338.4,1108.6 L339.7,1105.9 L341.0,1103.2 L342.4,1100.5 L343.7,1097.8 L345.1,1095.1 L346.5,1092.4 L347.8,1089.8 L349.2,1087.1 L350.6,1084.4 L351.9,1081.7 L353.3,1079.1 L354.7,1076.4 L356.1,1073.7 L357.5,1071.1 L358.9,1068.4 L360.3,1065.7 L361.7,1063.1 L363.2,1060.4 L364.6,1057.8 L366.0,1055.1 L367.4,1052.5 L368.9,1049.8 L370.3,1047.2 L371.8,1044.6 L373.2,1041.9 L374.7,1039.3 L376.2,1036.7 L377.6,1034.1 L379.1,1031.4 L380.6,1028.8 L382.1,1026.2 L383.6,1023.6 L385.1,1021.0 L386.6,1018.4 L388.1,1015.8 L389.6,1013.2 L391.1,1010.6 L392.6,1008.0 L394.2,1005.4 L395.7,1002.9 L397.3,1000.3 L398.8,997.7 L400.4,995.1 L401.9,992.6 L403.5,990.0 L405.1,987.5 L406.7,984.9 L408.3,982.4 L409.9,979.9 L411.5,977.4 L413.2,974.9 L414.9,972.4 L416.6,970.0 L418.4,967.5 L420.1,965.1 L421.9,962.7 L423.7,960.3 L425.5,957.9 L427.3,955.5 L429.1,953.1 L430.9,950.7 L432.8,948.3 L434.6,945.9 L436.4,943.5 L438.2,941.1 L440.0,938.7 L441.8,936.3 L443.6,933.9 L445.4,931.5 L447.2,929.1 L449.0,926.7 L450.9,924.4 L452.7,922.0 L454.6,919.7 L456.5,917.3 L458.4,915.0 L460.3,912.7 L462.2,910.4 L464.2,908.1 L466.2,905.9 L468.2,903.7 L470.2,901.4 L472.3,899.3 L474.4,897.1 L476.5,895.0 L478.7,892.9 L480.9,890.8 L483.2,888.8 L485.4,886.8 L487.8,884.9 L490.1,882.9 L492.5,881.1 L495.0,879.2 L497.4,877.4 L499.9,875.7 L502.5,873.9 L505.0,872.3 L507.6,870.6 L510.2,869.0 L512.8,867.5 L515.5,866.0 L518.1,864.6 L520.8,863.2 L523.5,861.8 L526.2,860.5 L529.0,859.3 L531.7,858.1 L534.5,856.9 L537.2,855.8 L540.0,854.8 L542.8,853.7 L545.6,852.8 L548.4,851.8 L551.3,850.9 L554.1,850.1 L557.0,849.2 L559.9,848.5 L562.7,847.7 L565.6,847.0 L568.5,846.3 L571.4,845.6 L574.4,845.0 L577.3,844.4 L580.2,843.9 L583.2,843.3 L586.1,842.8 L589.1,842.3 L592.0,841.8 L595.0,841.4 L598.0,841.0 L601.0,840.6 L604.0,840.2 L607.0,839.8 L610.0,839.5 L613.0,839.2 L616.0,838.8 L619.0,838.5 L622.0,838.3 L625.0,838.0 L628.0,837.7 L631.0,837.5 L634.1,837.2 L637.1,837.0 L640.1,836.7 L643.1,836.5 L646.1,836.3 L649.1,836.0 L652.2,835.8 L655.2,835.6 L658.2,835.4 L661.2,835.1 L664.2,834.9 L667.2,834.7 L670.2,834.4 L673.2,834.2 L676.2,833.9 L679.2,833.7 L682.2,833.4 L685.2,833.1 L688.2,832.8 L691.1,832.5 L694.1,832.2 L697.0,831.9 L700.0,831.5 L703.0,831.2 L705.9,830.8 L708.8,830.4 L711.8,830.0 L714.7,829.6 L717.7,829.2 L720.6,828.8 L723.5,828.3 L726.5,827.9 L729.4,827.4 L732.4,826.9 L735.3,826.4 L738.2,825.9 L741.2,825.3 L744.1,824.8 L747.1,824.2 L750.0,823.6 L752.9,823.1 L755.9,822.4 L758.8,821.8 L761.8,821.2 L764.8,820.5 L767.7,819.8 L770.7,819.1 L773.7,818.5 L776.6,817.8 L779.6,817.1 L782.6,816.4 L785.6,815.7 L788.6,815.1 L791.6,814.5 L794.6,813.9 L797.5,813.3 L800.5,812.8 L803.5,812.3 L806.5,811.9 L809.5,811.5 L812.5,811.1 L815.5,810.8 L818.5,810.6 L821.5,810.5 L824.5,810.4 L827.5,810.4 L830.5,810.4 L833.5,810.6 L836.4,810.8 L839.4,811.2 L842.4,811.6 L845.3,812.1 L848.3,812.6 L851.2,813.3 L854.1,814.0 L857.0,814.8 L859.8,815.7 L862.7,816.7 L865.5,817.8 L868.2,818.9 L871.0,820.1 L873.7,821.4 L876.3,822.8 L878.9,824.3 L881.5,825.8 L884.0,827.4 L886.5,829.1 L889.0,830.8 L891.4,832.6 L893.8,834.4 L896.2,836.3 L898.5,838.2 L900.9,840.1 L903.2,842.0 L905.5,844.0 L907.8,845.9 L910.1,847.9 L912.4,849.9 L914.6,851.9 L916.9,854.0 L919.1,856.0 L921.3,858.1 L923.5,860.1 L925.7,862.2 L927.8,864.3 L930.0,866.5 L932.1,868.6 L934.2,870.8 L936.2,873.0 L938.3,875.2 L940.3,877.4 L942.3,879.7 L944.3,881.9 L946.3,884.2 L948.2,886.5 L950.1,888.8 L952.0,891.2 L953.8,893.5 L955.7,895.9 L957.5,898.3 L959.3,900.7 L961.0,903.2 L962.8,905.6 L964.5,908.1 L966.2,910.5 L967.9,913.0 L969.5,915.5 L971.2,918.1 L972.8,920.6 L974.4,923.1 L976.1,925.7 L977.7,928.2 L979.3,930.8 L980.8,933.3 L982.4,935.9 L984.0,938.5 L985.6,941.0 L987.1,943.6 L988.7,946.2 L990.2,948.8 L991.8,951.4 L993.3,954.0 L994.9,956.5 L996.5,959.1 L998.0,961.7 L999.6,964.3 L1001.2,966.8 L1002.8,969.4 L1004.3,971.9 L1005.9,974.5 L1007.5,977.0 L1009.2,979.5 L1010.8,982.1 L1012.4,984.6 L1014.1,987.0 L1015.8,989.5 L1017.5,992.0 L1019.2,994.4 L1020.9,996.9 L1022.6,999.3 L1024.4,1001.7 L1026.2,1004.1 L1028.0,1006.5 L1029.8,1008.8 L1031.7,1011.1 L1033.6,1013.4 L1035.5,1015.7 L1037.5,1018.0 L1039.4,1020.2 L1041.4,1022.4 L1043.5,1024.6 L1045.5,1026.8 L1047.6,1028.9 L1049.8,1031.0 L1051.9,1033.1 L1054.1,1035.2 L1056.3,1037.2 L1058.5,1039.2 L1060.8,1041.2 L1063.1,1043.2 L1065.4,1045.1 L1067.7,1047.0 L1070.1,1048.9 L1072.4,1050.8 L1074.8,1052.7 L1077.3,1054.5 L1079.7,1056.3 L1082.1,1058.1 L1084.6,1059.8 L1087.1,1061.6 L1089.6,1063.3 L1092.1,1065.0 L1094.7,1066.7 L1097.2,1068.3 L1099.8,1069.9 L1102.4,1071.5 L1105.0,1073.1 L1107.6,1074.7 L1110.2,1076.2 L1112.8,1077.8 L1115.4,1079.3 L1118.1,1080.8 L1120.7,1082.2 L1123.4,1083.7 L1126.1,1085.1 L1128.7,1086.5 L1131.4,1087.9 L1134.1,1089.2 L1136.8,1090.6 L1139.5,1091.9 L1142.2,1093.2 L1144.9,1094.5 L1147.6,1095.8 L1150.4,1097.1 L1153.1,1098.3 L1155.8,1099.5 L1158.6,1100.7 L1161.3,1101.9 L1164.1,1103.1 L1166.8,1104.2 L1169.6,1105.4 L1172.4,1106.5 L1175.2,1107.6 L1178.0,1108.7 L1180.8,1109.8 L1183.6,1110.8 L1186.4,1111.9 L1189.2,1112.9 L1192.0,1113.9 L1194.8,1114.9 L1197.6,1115.9 L1200.5,1116.9 L1203.3,1117.8 L1206.1,1118.8 L1209.0,1119.7 L1211.8,1120.6 L1214.7,1121.5 L1217.6,1122.4 L1220.4,1123.3 L1223.3,1124.2 L1226.2,1125.0 L1229.0,1125.9 L1231.9,1126.7 L1234.8,1127.5 L1237.7,1128.3 L1240.6,1129.1 L1243.5,1129.9 L1246.4,1130.6 L1249.3,1131.4 L1252.2,1132.1 L1255.1,1132.9 L1258.0,1133.6 L1260.9,1134.3 L1263.8,1135.0 L1266.8,1135.7 L1269.7,1136.4 L1272.6,1137.1 L1275.5,1137.8 L1278.5,1138.4 L1281.4,1139.1 L1284.3,1139.7 L1287.3,1140.4 L1290.2,1141.0 L1293.2,1141.6 L1296.1,1142.2 L1299.1,1142.8 L1302.0,1143.4 L1305.0,1144.0 L1307.9,1144.6 L1310.9,1145.2 L1313.8,1145.8 L1316.8,1146.3 L1319.8,1146.9 L1322.7,1147.4 L1325.7,1148.0 L1328.6,1148.5 L1331.6,1149.1 L1334.6,1149.6 L1337.5,1150.1 L1340.5,1150.7 L1343.5,1151.2 L1346.5,1151.7 L1349.4,1152.2 L1352.4,1152.7 L1355.4,1153.2 L1358.3,1153.7 L1361.3,1154.2 L1364.3,1154.7 L1367.3,1155.2 L1370.2,1155.7 L1373.2,1156.2 L1376.2,1156.6 L1379.1,1157.1 L1382.1,1157.6 L1385.1,1158.1 L1388.1,1158.5 L1391.0,1159.0 L1394.0,1159.4 L1397.0,1159.9 L1400.0,1160.4 L1402.9,1160.8 L1405.9,1161.3 L1408.9,1161.7 L1411.9,1162.1 L1414.8,1162.6 L1417.8,1163.0 L1420.8,1163.5 L1423.8,1163.9 L1426.7,1164.3 L1429.7,1164.7 L1432.7,1165.2 L1435.7,1165.6 L1438.7,1166.0 L1441.6,1166.4 L1444.6,1166.8 L1447.6,1167.2 L1450.6,1167.6 L1453.5,1168.0 L1456.5,1168.4 L1459.5,1168.8 L1462.5,1169.2 L1465.5,1169.6 L1468.4,1169.9 L1471.4,1170.3 L1474.4,1170.7 L1477.4,1171.1 L1480.4,1171.4 L1483.3,1171.8 L1486.3,1172.2 L1489.3,1172.5 L1492.3,1172.9 L1495.3,1173.2 L1498.3,1173.6 L1501.2,1173.9 L1504.2,1174.3 L1507.2,1174.6 L1510.2,1174.9 L1513.2,1175.3 L1516.2,1175.6 L1519.2,1175.9 L1522.1,1176.3 L1525.1,1176.6 L1528.1,1176.9 L1531.1,1177.2 L1534.1,1177.5 L1537.1,1177.8 L1540.1,1178.1 L1543.1,1178.4 L1546.0,1178.7 L1549.0,1179.0 L1552.0,1179.3 L1555.0,1179.6 L1558.0,1179.9 L1561.0,1180.1 L1564.0,1180.4 L1567.0,1180.7 L1570.0,1181.0 L1573.0,1181.2 L1576.0,1181.5 L1578.9,1181.8 L1581.9,1182.0 L1584.9,1182.3 L1587.9,1182.5 L1590.9,1182.8 L1593.9,1183.0 L1596.9,1183.3 L1599.9,1183.5 L1602.9,1183.7 L1605.9,1184.0 L1608.9,1184.2 L1611.9,1184.4 L1614.9,1184.6 L1617.9,1184.8 L1620.9,1185.1 L1623.9,1185.3 L1626.9,1185.5 L1629.9,1185.7 L1632.9,1185.9 L1635.9,1186.1 L1638.9,1186.3 L1641.9,1186.5 L1644.9,1186.6 L1647.9,1186.8 L1650.9,1187.0 L1653.9,1187.2 L1656.9,1187.4 L1659.9,1187.5 L1662.9,1187.7 L1666.0,1187.8 L1669.0,1188.0 L1672.0,1188.2 L1675.0,1188.3 L1678.0,1188.5 L1681.0,1188.6 L1684.0,1188.8 L1687.0,1188.9 L1690.0,1189.0 L1695.4,1209.0" stroke="#000" stroke-width="15"/>
<path d="M322.6,1141.0 L323.9,1138.3 L325.2,1135.6 L326.6,1132.9 L327.9,1130.2 L329.2,1127.5 L330.6,1124.8 L331.9,1122.1 L333.3,1119.5 L334.6,1116.8 L335.9,1114.1 L337.3,1111.4 L338.6,1108.7 L340.0,1106.0 L341.4,1103.3 L342.7,1100.6 L344.1,1098.0 L345.5,1095.3 L346.8,1092.6 L348.2,1089.9 L349.6,1087.2 L351.0,1084.6 L352.4,1081.9 L353.8,1079.2 L355.2,1076.5 L356.6,1073.9 L358.0,1071.2 L359.4,1068.5 L360.8,1065.9 L362.2,1063.2 L363.6,1060.6 L365.1,1057.9 L366.5,1055.3 L367.9,1052.6 L369.4,1050.0 L370.8,1047.3 L372.3,1044.7 L373.8,1042.1 L375.2,1039.4 L376.7,1036.8 L378.2,1034.2 L379.7,1031.6 L381.2,1029.0 L382.7,1026.4 L384.2,1023.7 L385.7,1021.1 L387.2,1018.6 L388.8,1016.0 L390.3,1013.4 L391.8,1010.8 L393.4,1008.2 L394.9,1005.7 L396.5,1003.1 L398.1,1000.5 L399.7,998.0 L401.3,995.5 L402.9,992.9 L404.5,990.4 L406.1,987.9 L407.7,985.3 L409.3,982.8 L411.0,980.3 L412.7,977.8 L414.3,975.4 L416.0,972.9 L417.7,970.4 L419.5,968.0 L421.2,965.5 L422.9,963.1 L424.7,960.7 L426.5,958.2 L428.3,955.8 L430.1,953.4 L431.9,951.0 L433.7,948.6 L435.6,946.2 L437.4,943.8 L439.3,941.5 L441.1,939.1 L443.0,936.7 L444.9,934.4 L446.8,932.0 L448.7,929.7 L450.7,927.4 L452.6,925.1 L454.6,922.8 L456.5,920.5 L458.5,918.2 L460.6,916.0 L462.6,913.8 L464.7,911.5 L466.7,909.4 L468.8,907.2 L470.9,905.0 L473.1,902.9 L475.3,900.8 L477.4,898.8 L479.6,896.7 L481.9,894.7 L484.1,892.7 L486.4,890.8 L488.7,888.8 L491.1,886.9 L493.5,885.1 L495.8,883.3 L498.3,881.5 L500.7,879.7 L503.2,878.0 L505.7,876.3 L508.2,874.7 L510.7,873.1 L513.3,871.5 L515.9,870.0 L518.5,868.6 L521.1,867.2 L523.8,865.8 L526.4,864.5 L529.1,863.2 L531.9,862.0 L534.6,860.8 L537.4,859.6 L540.1,858.5 L542.9,857.5 L545.8,856.5 L548.6,855.5 L551.4,854.6 L554.3,853.7 L557.2,852.9 L560.1,852.1 L563.0,851.3 L565.9,850.6 L568.8,849.9 L571.8,849.3 L574.7,848.7 L577.7,848.1 L580.6,847.6 L583.6,847.2 L586.6,846.7 L589.6,846.3 L592.6,846.0 L595.6,845.6 L598.6,845.4 L601.6,845.1 L604.6,844.9 L607.7,844.7 L610.7,844.6 L613.7,844.5 L616.7,844.4 L619.8,844.3 L622.8,844.3 L625.8,844.3 L628.8,844.3 L631.9,844.4 L634.9,844.4 L637.9,844.5 L640.9,844.5 L644.0,844.6 L647.0,844.7 L650.0,844.8 L653.0,844.8 L656.0,844.9 L659.1,844.9 L662.1,845.0 L665.1,845.0 L668.1,845.0 L671.1,845.0 L674.1,845.0 L677.1,844.9 L680.1,844.8 L683.1,844.7 L686.0,844.5 L689.0,844.3 L692.0,844.1 L695.0,843.8 L697.9,843.5 L700.9,843.2 L703.9,842.9 L706.8,842.5 L709.8,842.1 L712.7,841.6 L715.7,841.2 L718.6,840.7 L721.6,840.2 L724.5,839.6 L727.5,839.1 L730.4,838.5 L733.4,838.0 L736.3,837.4 L739.2,836.8 L742.2,836.2 L745.1,835.5 L748.1,834.9 L751.0,834.2 L754.0,833.6 L756.9,832.9 L759.9,832.3 L762.8,831.6 L765.8,831.0 L768.8,830.3 L771.7,829.6 L774.7,829.0 L777.7,828.3 L780.6,827.7 L783.6,827.0 L786.6,826.4 L789.6,825.8 L792.6,825.2 L795.6,824.6 L798.6,824.1 L801.6,823.6 L804.6,823.1 L807.6,822.7 L810.6,822.3 L813.6,822.0 L816.6,821.7 L819.5,821.5 L822.5,821.3 L825.5,821.2 L828.5,821.2 L831.5,821.3 L834.5,821.4 L837.4,821.6 L840.4,821.9 L843.3,822.3 L846.3,822.8 L849.2,823.3 L852.1,823.9 L855.0,824.6 L857.9,825.4 L860.8,826.3 L863.7,827.2 L866.5,828.2 L869.3,829.2 L872.1,830.4 L874.9,831.6 L877.6,832.8 L880.3,834.2 L883.0,835.5 L885.6,837.0 L888.3,838.5 L890.8,840.1 L893.4,841.7 L895.9,843.3 L898.4,845.1 L900.8,846.8 L903.2,848.7 L905.5,850.5 L907.8,852.5 L910.1,854.4 L912.4,856.4 L914.6,858.5 L916.7,860.6 L918.9,862.7 L921.0,864.8 L923.0,867.0 L925.1,869.2 L927.1,871.5 L929.1,873.7 L931.1,876.0 L933.0,878.4 L934.9,880.7 L936.8,883.1 L938.7,885.4 L940.6,887.8 L942.4,890.2 L944.3,892.6 L946.1,895.1 L947.9,897.5 L949.7,899.9 L951.5,902.4 L953.3,904.8 L955.1,907.3 L956.8,909.7 L958.6,912.2 L960.4,914.6 L962.1,917.1 L963.9,919.5 L965.6,922.0 L967.3,924.4 L969.1,926.9 L970.8,929.4 L972.5,931.8 L974.2,934.3 L975.9,936.8 L977.6,939.2 L979.4,941.7 L981.1,944.2 L982.8,946.6 L984.5,949.1 L986.2,951.6 L987.9,954.0 L989.6,956.5 L991.3,959.0 L993.0,961.4 L994.7,963.9 L996.5,966.3 L998.2,968.8 L999.9,971.2 L1001.6,973.7 L1003.4,976.1 L1005.1,978.6 L1006.9,981.0 L1008.6,983.4 L1010.4,985.9 L1012.1,988.3 L1013.9,990.7 L1015.7,993.2 L1017.4,995.6 L1019.2,998.0 L1021.0,1000.4 L1022.9,1002.8 L1024.7,1005.2 L1026.5,1007.6 L1028.3,1010.0 L1030.2,1012.4 L1032.1,1014.7 L1033.9,1017.1 L1035.8,1019.5 L1037.7,1021.8 L1039.7,1024.2 L1041.6,1026.5 L1043.5,1028.9 L1045.5,1031.2 L1047.5,1033.5 L1049.5,1035.8 L1051.5,1038.1 L1053.5,1040.3 L1055.6,1042.6 L1057.6,1044.8 L1059.8,1046.9 L1061.9,1049.1 L1064.0,1051.2 L1066.2,1053.3 L1068.4,1055.3 L1070.7,1057.4 L1073.0,1059.3 L1075.3,1061.3 L1077.6,1063.1 L1080.0,1065.0 L1082.4,1066.8 L1084.8,1068.5 L1087.3,1070.2 L1089.8,1071.9 L1092.3,1073.5 L1094.9,1075.0 L1097.5,1076.6 L1100.1,1078.1 L1102.7,1079.6 L1105.4,1081.0 L1108.0,1082.4 L1110.7,1083.8 L1113.4,1085.2 L1116.1,1086.5 L1118.8,1087.8 L1121.5,1089.2 L1124.2,1090.5 L1126.9,1091.7 L1129.7,1093.0 L1132.4,1094.3 L1135.2,1095.5 L1137.9,1096.7 L1140.6,1097.9 L1143.4,1099.1 L1146.2,1100.3 L1148.9,1101.5 L1151.7,1102.6 L1154.5,1103.8 L1157.3,1104.9 L1160.1,1106.0 L1162.9,1107.1 L1165.6,1108.2 L1168.5,1109.3 L1171.3,1110.3 L1174.1,1111.4 L1176.9,1112.4 L1179.7,1113.4 L1182.5,1114.4 L1185.4,1115.4 L1188.2,1116.4 L1191.0,1117.4 L1193.9,1118.4 L1196.7,1119.3 L1199.6,1120.3 L1202.4,1121.2 L1205.3,1122.1 L1208.1,1123.0 L1211.0,1123.9 L1213.9,1124.8 L1216.7,1125.7 L1219.6,1126.5 L1222.5,1127.4 L1225.4,1128.2 L1228.3,1129.0 L1231.2,1129.9 L1234.1,1130.7 L1237.0,1131.5 L1239.9,1132.3 L1242.8,1133.0 L1245.7,1133.8 L1248.6,1134.6 L1251.5,1135.3 L1254.4,1136.1 L1257.3,1136.8 L1260.2,1137.5 L1263.2,1138.2 L1266.1,1138.9 L1269.0,1139.6 L1271.9,1140.3 L1274.9,1141.0 L1277.8,1141.7 L1280.8,1142.3 L1283.7,1143.0 L1286.6,1143.6 L1289.6,1144.3 L1292.5,1144.9 L1295.5,1145.5 L1298.4,1146.2 L1301.4,1146.8 L1304.3,1147.4 L1307.3,1148.0 L1310.3,1148.6 L1313.2,1149.1 L1316.2,1149.7 L1319.1,1150.3 L1322.1,1150.8 L1325.1,1151.4 L1328.0,1151.9 L1331.0,1152.5 L1334.0,1153.0 L1336.9,1153.5 L1339.9,1154.1 L1342.9,1154.6 L1345.9,1155.1 L1348.8,1155.6 L1351.8,1156.1 L1354.8,1156.6 L1357.8,1157.1 L1360.8,1157.6 L1363.7,1158.1 L1366.7,1158.5 L1369.7,1159.0 L1372.7,1159.5 L1375.7,1160.0 L1378.6,1160.4 L1381.6,1160.9 L1384.6,1161.3 L1387.6,1161.8 L1390.6,1162.2 L1393.6,1162.7 L1396.5,1163.1 L1399.5,1163.5 L1402.5,1164.0 L1405.5,1164.4 L1408.5,1164.8 L1411.5,1165.2 L1414.4,1165.6 L1417.4,1166.1 L1420.4,1166.5 L1423.4,1166.9 L1426.4,1167.3 L1429.4,1167.7 L1432.3,1168.1 L1435.3,1168.5 L1438.3,1168.9 L1441.3,1169.3 L1444.3,1169.7 L1447.2,1170.0 L1450.2,1170.4 L1453.2,1170.8 L1456.2,1171.2 L1459.2,1171.5 L1462.2,1171.9 L1465.1,1172.3 L1468.1,1172.6 L1471.1,1173.0 L1474.1,1173.3 L1477.1,1173.7 L1480.1,1174.0 L1483.0,1174.4 L1486.0,1174.7 L1489.0,1175.0 L1492.0,1175.4 L1495.0,1175.7 L1498.0,1176.0 L1501.0,1176.4 L1503.9,1176.7 L1506.9,1177.0 L1509.9,1177.3 L1512.9,1177.6 L1515.9,1177.9 L1518.9,1178.2 L1521.9,1178.5 L1524.8,1178.8 L1527.8,1179.1 L1530.8,1179.4 L1533.8,1179.7 L1536.8,1180.0 L1539.8,1180.2 L1542.8,1180.5 L1545.8,1180.8 L1548.8,1181.1 L1551.8,1181.3 L1554.7,1181.6 L1557.7,1181.9 L1560.7,1182.1 L1563.7,1182.4 L1566.7,1182.6 L1569.7,1182.9 L1572.7,1183.1 L1575.7,1183.3 L1578.7,1183.6 L1581.7,1183.8 L1584.7,1184.0 L1587.7,1184.3 L1590.7,1184.5 L1593.7,1184.7 L1596.7,1184.9 L1599.7,1185.1 L1602.7,1185.3 L1605.7,1185.5 L1608.7,1185.7 L1611.7,1185.9 L1614.7,1186.1 L1617.7,1186.3 L1620.7,1186.5 L1623.7,1186.7 L1626.7,1186.9 L1629.7,1187.1 L1632.8,1187.2 L1635.8,1187.4 L1638.8,1187.6 L1641.8,1187.7 L1644.8,1187.9 L1647.8,1188.1 L1650.8,1188.2 L1653.8,1188.4 L1656.8,1188.5 L1659.9,1188.6 L1662.9,1188.8 L1665.9,1188.9 L1668.9,1189.1 L1671.9,1189.2 L1675.0,1189.3 L1678.0,1189.4 L1681.0,1189.5 L1684.0,1189.7 L1687.1,1189.8 L1690.1,1189.9 L1695.4,1209.0" stroke="#f00" stroke-width="15"/>
<path d="M322.7,1141.0 L324.0,1138.3 L325.3,1135.6 L326.6,1132.9 L327.9,1130.2 L329.2,1127.5 L330.5,1124.8 L331.9,1122.1 L333.2,1119.4 L334.6,1116.7 L335.9,1114.1 L337.3,1111.4 L338.6,1108.7 L340.0,1106.0 L341.4,1103.4 L342.8,1100.7 L344.2,1098.0 L345.6,1095.4 L347.0,1092.7 L348.4,1090.0 L349.8,1087.4 L351.2,1084.7 L352.6,1082.1 L354.0,1079.4 L355.5,1076.8 L356.9,1074.2 L358.4,1071.5 L359.8,1068.9 L361.2,1066.3 L362.7,1063.6 L364.2,1061.0 L365.6,1058.4 L367.1,1055.7 L368.6,1053.1 L370.0,1050.5 L371.5,1047.9 L373.0,1045.3 L374.5,1042.7 L376.0,1040.0 L377.5,1037.4 L379.0,1034.8 L380.5,1032.2 L382.0,1029.6 L383.5,1027.0 L385.0,1024.4 L386.5,1021.8 L388.0,1019.2 L389.5,1016.6 L391.0,1014.0 L392.6,1011.4 L394.1,1008.8 L395.6,1006.3 L397.1,1003.7 L398.7,1001.1 L400.2,998.5 L401.7,995.9 L403.3,993.3 L404.8,990.7 L406.4,988.2 L407.9,985.6 L409.5,983.1 L411.1,980.5 L412.8,978.0 L414.4,975.5 L416.1,973.1 L417.9,970.7 L419.7,968.3 L421.5,965.9 L423.4,963.6 L425.3,961.3 L427.2,959.0 L429.2,956.7 L431.1,954.4 L433.1,952.1 L435.1,949.9 L437.0,947.6 L439.0,945.3 L441.0,943.0 L443.0,940.7 L444.9,938.4 L446.9,936.1 L448.9,933.8 L450.9,931.6 L452.9,929.3 L454.9,927.0 L456.9,924.8 L458.9,922.5 L460.9,920.3 L462.9,918.0 L465.0,915.8 L467.0,913.6 L469.1,911.4 L471.2,909.3 L473.3,907.1 L475.4,905.0 L477.6,902.9 L479.7,900.8 L481.9,898.8 L484.1,896.8 L486.3,894.8 L488.6,892.8 L490.9,890.9 L493.2,889.0 L495.5,887.1 L497.8,885.3 L500.2,883.5 L502.6,881.8 L505.1,880.1 L507.6,878.4 L510.1,876.7 L512.6,875.1 L515.2,873.6 L517.7,872.0 L520.3,870.5 L522.9,869.0 L525.6,867.6 L528.2,866.2 L530.9,864.8 L533.6,863.5 L536.3,862.2 L539.1,861.0 L541.8,859.8 L544.6,858.7 L547.4,857.7 L550.2,856.7 L553.1,855.7 L556.0,854.9 L558.8,854.1 L561.7,853.3 L564.7,852.6 L567.6,852.0 L570.5,851.4 L573.5,850.8 L576.4,850.2 L579.4,849.7 L582.4,849.2 L585.4,848.7 L588.3,848.3 L591.3,847.9 L594.3,847.4 L597.3,847.1 L600.3,846.7 L603.3,846.4 L606.3,846.1 L609.3,845.8 L612.3,845.6 L615.3,845.4 L618.3,845.2 L621.3,845.1 L624.3,845.0 L627.3,845.0 L630.3,845.0 L633.3,845.0 L636.3,845.1 L639.3,845.2 L642.3,845.3 L645.3,845.5 L648.2,845.7 L651.2,845.9 L654.2,846.1 L657.2,846.4 L660.2,846.6 L663.2,846.9 L666.2,847.2 L669.1,847.4 L672.1,847.7 L675.1,848.0 L678.1,848.3 L681.2,848.5 L684.2,848.8 L687.2,849.0 L690.2,849.2 L693.2,849.5 L696.3,849.7 L699.3,849.9 L702.3,850.2 L705.3,850.4 L708.4,850.7 L711.4,851.0 L714.4,851.3 L717.4,851.6 L720.4,852.0 L723.4,852.4 L726.4,852.8 L729.3,853.3 L732.3,853.8 L735.2,854.3 L738.2,854.9 L741.1,855.5 L744.0,856.2 L746.9,857.0 L749.8,857.8 L752.6,858.6 L755.4,859.6 L758.3,860.5 L761.1,861.6 L763.8,862.7 L766.6,863.9 L769.3,865.1 L772.1,866.4 L774.8,867.7 L777.5,869.0 L780.2,870.4 L782.9,871.8 L785.5,873.2 L788.2,874.6 L790.9,876.0 L793.5,877.5 L796.2,878.9 L798.9,880.4 L801.5,881.8 L804.2,883.2 L806.8,884.6 L809.5,885.9 L812.1,887.3 L814.8,888.6 L817.5,889.9 L820.2,891.2 L822.9,892.5 L825.5,893.8 L828.2,895.0 L830.9,896.3 L833.7,897.5 L836.4,898.7 L839.1,899.9 L841.9,901.2 L844.6,902.4 L847.4,903.5 L850.1,904.7 L852.9,905.9 L855.7,907.1 L858.5,908.3 L861.4,909.5 L864.2,910.7 L867.0,911.9 L869.8,913.1 L872.6,914.3 L875.5,915.5 L878.3,916.8 L881.1,918.1 L883.8,919.4 L886.6,920.7 L889.3,922.0 L892.1,923.4 L894.8,924.8 L897.4,926.3 L900.1,927.7 L902.7,929.3 L905.3,930.8 L907.8,932.4 L910.3,934.0 L912.8,935.7 L915.2,937.4 L917.7,939.1 L920.1,940.9 L922.4,942.7 L924.8,944.5 L927.1,946.4 L929.4,948.3 L931.7,950.2 L933.9,952.1 L936.2,954.0 L938.4,956.0 L940.6,958.0 L942.8,960.0 L945.0,962.1 L947.2,964.1 L949.3,966.2 L951.5,968.2 L953.6,970.3 L955.7,972.4 L957.9,974.5 L960.0,976.6 L962.1,978.8 L964.2,980.9 L966.4,983.0 L968.5,985.2 L970.6,987.3 L972.7,989.4 L974.8,991.6 L977.0,993.7 L979.1,995.8 L981.3,998.0 L983.4,1000.1 L985.6,1002.2 L987.7,1004.3 L989.9,1006.4 L992.0,1008.6 L994.2,1010.7 L996.4,1012.8 L998.6,1014.9 L1000.8,1016.9 L1003.0,1019.0 L1005.2,1021.1 L1007.4,1023.2 L1009.6,1025.2 L1011.9,1027.3 L1014.1,1029.3 L1016.3,1031.3 L1018.6,1033.4 L1020.8,1035.4 L1023.1,1037.4 L1025.4,1039.4 L1027.6,1041.4 L1029.9,1043.3 L1032.2,1045.3 L1034.5,1047.2 L1036.8,1049.2 L1039.2,1051.1 L1041.5,1053.0 L1043.8,1054.9 L1046.2,1056.8 L1048.5,1058.6 L1050.9,1060.5 L1053.3,1062.3 L1055.7,1064.1 L1058.1,1066.0 L1060.5,1067.7 L1062.9,1069.5 L1065.3,1071.3 L1067.7,1073.0 L1070.2,1074.7 L1072.6,1076.4 L1075.1,1078.1 L1077.6,1079.8 L1080.1,1081.4 L1082.6,1083.0 L1085.1,1084.6 L1087.6,1086.2 L1090.1,1087.8 L1092.7,1089.3 L1095.2,1090.9 L1097.8,1092.4 L1100.4,1093.8 L1103.0,1095.3 L1105.6,1096.7 L1108.2,1098.1 L1110.8,1099.5 L1113.5,1100.9 L1116.1,1102.2 L1118.8,1103.5 L1121.5,1104.8 L1124.1,1106.0 L1126.8,1107.3 L1129.6,1108.5 L1132.3,1109.7 L1135.0,1110.8 L1137.8,1111.9 L1140.6,1113.1 L1143.3,1114.1 L1146.1,1115.2 L1148.9,1116.3 L1151.7,1117.3 L1154.5,1118.3 L1157.4,1119.3 L1160.2,1120.2 L1163.0,1121.2 L1165.9,1122.1 L1168.8,1123.0 L1171.6,1123.9 L1174.5,1124.8 L1177.4,1125.6 L1180.3,1126.5 L1183.2,1127.3 L1186.1,1128.1 L1189.0,1128.9 L1191.9,1129.7 L1194.9,1130.4 L1197.8,1131.2 L1200.7,1131.9 L1203.7,1132.6 L1206.6,1133.3 L1209.6,1134.0 L1212.6,1134.7 L1215.5,1135.4 L1218.5,1136.0 L1221.5,1136.7 L1224.4,1137.3 L1227.4,1138.0 L1230.4,1138.6 L1233.4,1139.2 L1236.4,1139.8 L1239.4,1140.4 L1242.3,1141.0 L1245.3,1141.5 L1248.3,1142.1 L1251.3,1142.7 L1254.3,1143.2 L1257.3,1143.8 L1260.3,1144.3 L1263.3,1144.9 L1266.3,1145.4 L1269.3,1146.0 L1272.3,1146.5 L1275.3,1147.0 L1278.3,1147.6 L1281.3,1148.1 L1284.3,1148.6 L1287.2,1149.1 L1290.2,1149.7 L1293.2,1150.2 L1296.2,1150.7 L1299.2,1151.2 L1302.1,1151.8 L1305.1,1152.3 L1308.1,1152.8 L1311.0,1153.3 L1314.0,1153.9 L1316.9,1154.4 L1319.9,1154.9 L1322.9,1155.5 L1325.8,1156.0 L1328.7,1156.5 L1331.7,1157.0 L1334.6,1157.6 L1337.6,1158.1 L1340.5,1158.6 L1343.5,1159.1 L1346.4,1159.7 L1349.3,1160.2 L1352.3,1160.7 L1355.2,1161.2 L1358.1,1161.7 L1361.1,1162.2 L1364.0,1162.7 L1366.9,1163.2 L1369.9,1163.7 L1372.8,1164.2 L1375.8,1164.7 L1378.7,1165.1 L1381.6,1165.6 L1384.6,1166.1 L1387.5,1166.5 L1390.5,1167.0 L1393.4,1167.4 L1396.4,1167.9 L1399.3,1168.3 L1402.3,1168.7 L1405.2,1169.2 L1408.2,1169.6 L1411.1,1170.0 L1414.1,1170.4 L1417.1,1170.8 L1420.0,1171.2 L1423.0,1171.5 L1426.0,1171.9 L1428.9,1172.3 L1431.9,1172.6 L1434.9,1173.0 L1437.9,1173.3 L1440.9,1173.7 L1443.8,1174.0 L1446.8,1174.4 L1449.8,1174.7 L1452.8,1175.0 L1455.8,1175.3 L1458.8,1175.6 L1461.8,1175.9 L1464.8,1176.2 L1467.8,1176.5 L1470.8,1176.8 L1473.8,1177.1 L1476.8,1177.4 L1479.8,1177.7 L1482.8,1177.9 L1485.8,1178.2 L1488.8,1178.5 L1491.8,1178.7 L1494.8,1179.0 L1497.8,1179.2 L1500.8,1179.5 L1503.8,1179.7 L1506.8,1180.0 L1509.8,1180.2 L1512.8,1180.4 L1515.8,1180.7 L1518.8,1180.9 L1521.9,1181.1 L1524.9,1181.3 L1527.9,1181.5 L1530.9,1181.8 L1533.9,1182.0 L1536.9,1182.2 L1539.9,1182.4 L1543.0,1182.6 L1546.0,1182.8 L1549.0,1183.0 L1552.0,1183.2 L1555.0,1183.4 L1558.0,1183.5 L1561.0,1183.7 L1564.1,1183.9 L1567.1,1184.1 L1570.1,1184.3 L1573.1,1184.5 L1576.1,1184.6 L1579.1,1184.8 L1582.1,1185.0 L1585.1,1185.2 L1588.2,1185.3 L1591.2,1185.5 L1594.2,1185.7 L1597.2,1185.9 L1600.2,1186.0 L1603.2,1186.2 L1606.2,1186.4 L1609.2,1186.5 L1612.2,1186.7 L1615.2,1186.9 L1618.2,1187.0 L1621.2,1187.2 L1624.2,1187.3 L1627.2,1187.5 L1630.2,1187.7 L1633.2,1187.8 L1636.2,1188.0 L1639.2,1188.2 L1642.2,1188.3 L1645.2,1188.5 L1648.2,1188.7 L1651.2,1188.8 L1654.2,1189.0 L1657.2,1189.2 L1660.1,1189.3 L1663.1,1189.5 L1666.1,1189.7 L1669.1,1189.9 L1672.1,1190.0 L1675.0,1190.2 L1678.0,1190.4 L1681.0,1190.6 L1683.9,1190.8 L1686.9,1190.9 L1689.9,1191.1 L1695.4,1209.0" stroke="#f00" stroke-width="15"/>
<path d="M322.5,1140.9 L323.8,1138.2 L325.1,1135.5 L326.4,1132.8 L327.7,1130.2 L329.0,1127.5 L330.4,1124.8 L331.7,1122.1 L333.0,1119.4 L334.3,1116.7 L335.6,1114.0 L336.9,1111.3 L338.2,1108.6 L339.5,1105.9 L340.8,1103.2 L342.2,1100.5 L343.5,1097.8 L344.8,1095.1 L346.1,1092.4 L347.5,1089.7 L348.8,1087.0 L350.1,1084.3 L351.5,1081.6 L352.8,1078.9 L354.2,1076.2 L355.5,1073.5 L356.9,1070.8 L358.3,1068.1 L359.6,1065.4 L361.0,1062.8 L362.4,1060.1 L363.8,1057.4 L365.2,1054.7 L366.5,1052.1 L367.9,1049.4 L369.4,1046.7 L370.8,1044.1 L372.2,1041.4 L373.6,1038.8 L375.1,1036.1 L376.5,1033.5 L378.0,1030.9 L379.4,1028.2 L380.9,1025.6 L382.4,1023.0 L383.8,1020.4 L385.3,1017.8 L386.8,1015.2 L388.3,1012.6 L389.9,1010.0 L391.4,1007.4 L392.9,1004.8 L394.5,1002.3 L396.0,999.7 L397.6,997.2 L399.2,994.6 L400.8,992.1 L402.4,989.5 L404.0,987.0 L405.6,984.5 L407.2,982.0 L408.9,979.5 L410.5,977.0 L412.2,974.5 L413.9,972.0 L415.6,969.6 L417.3,967.1 L419.0,964.7 L420.7,962.2 L422.4,959.8 L424.2,957.3 L425.9,954.9 L427.6,952.4 L429.3,949.9 L431.0,947.4 L432.7,944.9 L434.3,942.4 L436.0,939.8 L437.7,937.3 L439.3,934.7 L441.0,932.2 L442.7,929.6 L444.4,927.1 L446.0,924.6 L447.7,922.0 L449.5,919.5 L451.2,917.0 L452.9,914.5 L454.7,912.1 L456.5,909.7 L458.3,907.2 L460.2,904.9 L462.0,902.5 L463.9,900.2 L465.9,897.9 L467.9,895.7 L469.9,893.5 L472.0,891.3 L474.1,889.2 L476.2,887.2 L478.4,885.1 L480.7,883.2 L483.0,881.3 L485.4,879.5 L487.8,877.7 L490.2,875.9 L492.6,874.2 L495.1,872.5 L497.6,870.8 L500.1,869.2 L502.6,867.5 L505.1,866.0 L507.7,864.4 L510.3,862.9 L512.9,861.4 L515.5,860.0 L518.1,858.6 L520.8,857.2 L523.4,855.8 L526.1,854.5 L528.8,853.2 L531.5,852.0 L534.2,850.7 L537.0,849.5 L539.8,848.4 L542.5,847.3 L545.3,846.2 L548.1,845.1 L551.0,844.1 L553.8,843.1 L556.7,842.1 L559.6,841.2 L562.4,840.3 L565.3,839.5 L568.3,838.7 L571.2,837.9 L574.1,837.1 L577.1,836.4 L580.1,835.7 L583.1,835.1 L586.1,834.5 L589.1,833.9 L592.1,833.3 L595.1,832.8 L598.1,832.2 L601.1,831.7 L604.2,831.1 L607.2,830.6 L610.2,830.1 L613.2,829.5 L616.2,829.0 L619.2,828.4 L622.1,827.8 L625.1,827.1 L628.0,826.5 L630.9,825.8 L633.8,825.0 L636.7,824.2 L639.5,823.4 L642.3,822.5 L645.1,821.5 L647.8,820.5 L650.5,819.4 L653.2,818.2 L655.8,817.0 L658.4,815.6 L660.9,814.2 L663.4,812.7 L665.8,811.1 L668.2,809.5 L670.6,807.7 L672.9,805.9 L675.2,804.1 L677.5,802.1 L679.7,800.1 L681.9,798.1 L684.1,796.0 L686.3,793.9 L688.4,791.7 L690.5,789.6 L692.6,787.3 L694.7,785.1 L696.8,782.8 L698.8,780.5 L700.9,778.2 L702.9,775.9 L704.9,773.6 L707.0,771.3 L709.0,769.1 L711.0,766.8 L713.1,764.5 L715.1,762.2 L717.1,760.0 L719.1,757.7 L721.1,755.5 L723.2,753.2 L725.2,751.0 L727.2,748.7 L729.2,746.5 L731.1,744.2 L733.1,742.0 L735.1,739.7 L737.0,737.4 L739.0,735.2 L740.9,732.9 L742.8,730.6 L744.7,728.3 L746.6,726.0 L748.5,723.7 L750.4,721.4 L752.3,719.1 L754.1,716.8 L756.0,714.5 L757.8,712.1 L759.6,709.8 L761.4,707.4 L763.2,705.1 L765.0,702.7 L766.8,700.3 L768.6,697.9 L770.3,695.5 L772.1,693.1 L773.8,690.7 L775.5,688.2 L777.2,685.8 L778.9,683.3 L780.6,680.8 L782.3,678.3 L784.0,675.8 L785.6,673.3 L787.3,670.8 L788.9,668.3 L790.5,665.7 L792.1,663.1 L793.7,660.6 L795.3,658.0 L796.9,655.4 L798.5,652.7 L800.0,650.1 L801.6,647.4 L803.1,644.8 L804.6,642.1 L806.1,639.4 L807.7,636.7 L809.2,634.0 L810.8,631.4 L812.4,628.8 L814.0,626.2 L815.7,623.7 L817.4,621.2 L819.2,618.8 L821.0,616.5 L822.9,614.2 L824.9,612.1 L827.0,610.0 L829.2,608.0 L831.4,606.2 L833.8,604.5 L836.3,602.9 L838.9,601.4 L841.6,600.1 L844.3,599.0 L847.2,598.1 L850.1,597.4 L853.1,596.8 L856.1,596.5 L859.1,596.4 L862.2,596.4 L865.2,596.7 L868.2,597.1 L871.2,597.8 L874.1,598.6 L876.9,599.6 L879.7,600.8 L882.4,602.2 L885.1,603.7 L887.6,605.3 L890.0,607.0 L892.3,608.8 L894.6,610.7 L896.7,612.7 L898.8,614.8 L900.7,617.0 L902.7,619.2 L904.5,621.6 L906.3,623.9 L908.0,626.4 L909.7,628.9 L911.3,631.4 L912.9,634.0 L914.5,636.6 L916.0,639.2 L917.5,641.9 L919.0,644.5 L920.5,647.2 L922.0,649.9 L923.4,652.6 L924.9,655.3 L926.4,658.0 L927.9,660.7 L929.4,663.3 L930.9,666.0 L932.4,668.6 L934.0,671.2 L935.5,673.8 L937.1,676.4 L938.6,679.0 L940.2,681.6 L941.7,684.1 L943.3,686.7 L944.8,689.3 L946.3,691.9 L947.8,694.4 L949.3,697.0 L950.8,699.6 L952.3,702.2 L953.7,704.8 L955.2,707.4 L956.6,710.1 L958.0,712.7 L959.3,715.3 L960.7,718.0 L962.0,720.7 L963.4,723.3 L964.7,726.0 L966.0,728.7 L967.3,731.4 L968.5,734.0 L969.8,736.7 L971.0,739.4 L972.3,742.2 L973.5,744.9 L974.7,747.6 L975.9,750.3 L977.1,753.1 L978.3,755.8 L979.5,758.5 L980.6,761.3 L981.8,764.0 L982.9,766.8 L984.1,769.6 L985.2,772.3 L986.4,775.1 L987.5,777.9 L988.6,780.7 L989.7,783.4 L990.9,786.2 L992.0,789.0 L993.1,791.8 L994.2,794.6 L995.3,797.4 L996.4,800.2 L997.5,803.0 L998.6,805.8 L999.8,808.6 L1000.9,811.4 L1002.0,814.2 L1003.1,817.0 L1004.2,819.8 L1005.4,822.6 L1006.5,825.4 L1007.6,828.2 L1008.8,831.0 L1009.9,833.8 L1011.1,836.6 L1012.2,839.4 L1013.4,842.2 L1014.5,845.0 L1015.7,847.8 L1016.9,850.6 L1018.1,853.4 L1019.3,856.2 L1020.5,859.0 L1021.7,861.8 L1023.0,864.5 L1024.2,867.3 L1025.5,870.1 L1026.7,872.8 L1028.0,875.6 L1029.3,878.3 L1030.6,881.0 L1031.9,883.8 L1033.2,886.5 L1034.5,889.2 L1035.9,891.9 L1037.2,894.6 L1038.6,897.3 L1040.0,899.9 L1041.4,902.6 L1042.8,905.3 L1044.3,907.9 L1045.7,910.5 L1047.2,913.2 L1048.7,915.8 L1050.2,918.4 L1051.7,920.9 L1053.3,923.5 L1054.8,926.1 L1056.4,928.6 L1058.0,931.2 L1059.6,933.7 L1061.3,936.2 L1062.9,938.7 L1064.6,941.1 L1066.3,943.6 L1068.0,946.0 L1069.8,948.5 L1071.5,950.9 L1073.3,953.3 L1075.1,955.7 L1076.9,958.1 L1078.7,960.4 L1080.5,962.8 L1082.4,965.1 L1084.2,967.5 L1086.1,969.8 L1088.0,972.1 L1089.9,974.3 L1091.9,976.6 L1093.8,978.9 L1095.8,981.1 L1097.8,983.3 L1099.8,985.6 L1101.8,987.8 L1103.8,990.0 L1105.9,992.1 L1107.9,994.3 L1110.0,996.4 L1112.1,998.6 L1114.2,1000.7 L1116.3,1002.8 L1118.5,1004.9 L1120.6,1007.0 L1122.8,1009.0 L1125.0,1011.1 L1127.2,1013.1 L1129.4,1015.1 L1131.6,1017.2 L1133.8,1019.1 L1136.1,1021.1 L1138.3,1023.1 L1140.6,1025.1 L1142.9,1027.0 L1145.2,1028.9 L1147.5,1030.8 L1149.8,1032.7 L1152.2,1034.6 L1154.5,1036.5 L1156.9,1038.4 L1159.2,1040.2 L1161.6,1042.1 L1164.0,1043.9 L1166.4,1045.7 L1168.8,1047.5 L1171.3,1049.3 L1173.7,1051.0 L1176.2,1052.8 L1178.6,1054.5 L1181.1,1056.2 L1183.6,1057.9 L1186.1,1059.6 L1188.6,1061.3 L1191.1,1063.0 L1193.6,1064.7 L1196.1,1066.3 L1198.7,1067.9 L1201.2,1069.5 L1203.8,1071.1 L1206.4,1072.7 L1208.9,1074.3 L1211.5,1075.9 L1214.1,1077.4 L1216.7,1079.0 L1219.3,1080.5 L1222.0,1082.0 L1224.6,1083.5 L1227.2,1085.0 L1229.9,1086.4 L1232.5,1087.9 L1235.2,1089.3 L1237.8,1090.7 L1240.5,1092.2 L1243.2,1093.6 L1245.9,1094.9 L1248.6,1096.3 L1251.3,1097.7 L1254.0,1099.0 L1256.7,1100.3 L1259.4,1101.7 L1262.2,1103.0 L1264.9,1104.3 L1267.6,1105.5 L1270.4,1106.8 L1273.1,1108.0 L1275.9,1109.3 L1278.7,1110.5 L1281.4,1111.7 L1284.2,1112.9 L1287.0,1114.1 L1289.8,1115.3 L1292.5,1116.4 L1295.3,1117.6 L1298.1,1118.7 L1300.9,1119.8 L1303.7,1120.9 L1306.5,1122.0 L1309.3,1123.1 L1312.2,1124.1 L1315.0,1125.2 L1317.8,1126.2 L1320.6,1127.2 L1323.4,1128.2 L1326.3,1129.2 L1329.1,1130.2 L1332.0,1131.2 L1334.8,1132.1 L1337.6,1133.1 L1340.5,1134.0 L1343.4,1135.0 L1346.2,1135.9 L1349.1,1136.8 L1351.9,1137.7 L1354.8,1138.5 L1357.7,1139.4 L1360.5,1140.2 L1363.4,1141.1 L1366.3,1141.9 L1369.2,1142.7 L1372.1,1143.5 L1375.0,1144.3 L1377.8,1145.1 L1380.7,1145.9 L1383.6,1146.7 L1386.5,1147.4 L1389.4,1148.2 L1392.3,1148.9 L1395.3,1149.6 L1398.2,1150.3 L1401.1,1151.0 L1404.0,1151.7 L1406.9,1152.4 L1409.8,1153.1 L1412.8,1153.7 L1415.7,1154.4 L1418.6,1155.0 L1421.5,1155.7 L1424.5,1156.3 L1427.4,1156.9 L1430.3,1157.5 L1433.3,1158.1 L1436.2,1158.7 L1439.2,1159.3 L1442.1,1159.9 L1445.1,1160.4 L1448.0,1161.0 L1451.0,1161.5 L1453.9,1162.1 L1456.9,1162.6 L1459.8,1163.1 L1462.8,1163.6 L1465.8,1164.1 L1468.7,1164.6 L1471.7,1165.1 L1474.6,1165.6 L1477.6,1166.1 L1480.6,1166.6 L1483.6,1167.0 L1486.5,1167.5 L1489.5,1167.9 L1492.5,1168.4 L1495.5,1168.8 L1498.4,1169.2 L1501.4,1169.7 L1504.4,1170.1 L1507.4,1170.5 L1510.4,1170.9 L1513.3,1171.3 L1516.3,1171.7 L1519.3,1172.0 L1522.3,1172.4 L1525.3,1172.8 L1528.3,1173.2 L1531.3,1173.5 L1534.2,1173.9 L1537.2,1174.2 L1540.2,1174.6 L1543.2,1174.9 L1546.2,1175.2 L1549.2,1175.6 L1552.2,1175.9 L1555.2,1176.2 L1558.2,1176.5 L1561.2,1176.8 L1564.2,1177.2 L1567.2,1177.5 L1570.2,1177.8 L1573.2,1178.0 L1576.2,1178.3 L1579.2,1178.6 L1582.2,1178.9 L1585.2,1179.2 L1588.2,1179.5 L1591.2,1179.7 L1594.2,1180.0 L1597.2,1180.3 L1600.2,1180.5 L1603.2,1180.8 L1606.2,1181.0 L1609.2,1181.3 L1612.2,1181.5 L1615.2,1181.8 L1618.2,1182.0 L1621.2,1182.3 L1624.2,1182.5 L1627.1,1182.7 L1630.1,1183.0 L1633.1,1183.2 L1636.1,1183.4 L1639.1,1183.7 L1642.1,1183.9 L1645.1,1184.1 L1648.1,1184.3 L1651.1,1184.5 L1654.1,1184.8 L1657.1,1185.0 L1660.1,1185.2 L1663.1,1185.4 L1666.1,1185.6 L1669.0,1185.8 L1672.0,1186.1 L1675.0,1186.3 L1678.0,1186.5 L1681.0,1186.7 L1684.0,1186.9 L1686.9,1187.1 L1689.9,1187.3 L1695.4,1208.0" stroke="#000" stroke-width="15"/>
<path d="M322.5,1140.9 L323.8,1138.2 L325.2,1135.5 L326.5,1132.9 L327.8,1130.2 L329.1,1127.5 L330.5,1124.8 L331.8,1122.1 L333.1,1119.4 L334.5,1116.8 L335.8,1114.1 L337.1,1111.4 L338.4,1108.7 L339.8,1106.0 L341.1,1103.3 L342.5,1100.6 L343.8,1097.9 L345.1,1095.2 L346.5,1092.5 L347.8,1089.8 L349.2,1087.1 L350.5,1084.4 L351.9,1081.7 L353.2,1079.0 L354.6,1076.4 L356.0,1073.7 L357.3,1071.0 L358.7,1068.3 L360.1,1065.6 L361.5,1062.9 L362.9,1060.3 L364.3,1057.6 L365.7,1054.9 L367.1,1052.3 L368.5,1049.6 L369.9,1047.0 L371.3,1044.3 L372.8,1041.6 L374.2,1039.0 L375.7,1036.4 L377.1,1033.7 L378.6,1031.1 L380.1,1028.5 L381.5,1025.8 L383.0,1023.2 L384.5,1020.6 L386.0,1018.0 L387.5,1015.4 L389.0,1012.8 L390.6,1010.2 L392.1,1007.7 L393.7,1005.1 L395.2,1002.5 L396.8,1000.0 L398.4,997.4 L400.0,994.9 L401.6,992.4 L403.2,989.8 L404.8,987.3 L406.4,984.8 L408.1,982.3 L409.7,979.8 L411.4,977.3 L413.1,974.9 L414.8,972.4 L416.5,969.9 L418.2,967.5 L419.9,965.1 L421.7,962.6 L423.4,960.2 L425.2,957.8 L426.9,955.4 L428.7,952.9 L430.4,950.5 L432.2,948.0 L433.9,945.6 L435.7,943.2 L437.5,940.7 L439.2,938.2 L441.0,935.8 L442.7,933.3 L444.5,930.9 L446.3,928.5 L448.1,926.0 L449.9,923.6 L451.7,921.2 L453.5,918.8 L455.4,916.4 L457.2,914.0 L459.1,911.7 L461.0,909.3 L463.0,907.0 L464.9,904.7 L466.9,902.5 L468.9,900.2 L471.0,898.0 L473.0,895.8 L475.1,893.6 L477.3,891.5 L479.5,889.4 L481.7,887.4 L483.9,885.3 L486.2,883.4 L488.5,881.4 L490.9,879.5 L493.3,877.7 L495.7,875.9 L498.1,874.2 L500.6,872.5 L503.1,870.8 L505.7,869.3 L508.2,867.7 L510.8,866.2 L513.4,864.7 L516.1,863.3 L518.7,862.0 L521.4,860.6 L524.1,859.3 L526.8,858.1 L529.6,856.9 L532.3,855.7 L535.1,854.6 L537.9,853.5 L540.7,852.4 L543.6,851.4 L546.4,850.4 L549.3,849.4 L552.1,848.5 L555.0,847.6 L557.9,846.8 L560.8,845.9 L563.7,845.1 L566.6,844.4 L569.5,843.6 L572.5,842.9 L575.4,842.2 L578.3,841.5 L581.3,840.9 L584.2,840.3 L587.2,839.7 L590.1,839.1 L593.1,838.5 L596.0,838.0 L599.0,837.5 L601.9,837.0 L604.9,836.5 L607.9,836.1 L610.8,835.7 L613.8,835.3 L616.8,834.9 L619.8,834.5 L622.8,834.1 L625.7,833.8 L628.7,833.5 L631.7,833.2 L634.7,832.9 L637.7,832.6 L640.7,832.3 L643.7,832.1 L646.8,831.9 L649.8,831.7 L652.8,831.5 L655.8,831.3 L658.8,831.1 L661.9,830.9 L664.9,830.8 L668.0,830.6 L671.0,830.5 L674.0,830.4 L677.1,830.2 L680.1,830.1 L683.1,829.9 L686.1,829.6 L689.1,829.3 L692.0,828.8 L694.8,828.3 L697.6,827.6 L700.4,826.8 L703.0,825.8 L705.6,824.7 L708.1,823.3 L710.5,821.8 L712.8,820.0 L715.1,818.1 L717.2,816.1 L719.3,813.9 L721.4,811.6 L723.4,809.2 L725.3,806.8 L727.2,804.3 L729.2,801.8 L731.0,799.3 L732.9,796.8 L734.8,794.4 L736.7,791.9 L738.5,789.4 L740.3,787.0 L742.2,784.6 L744.0,782.1 L745.8,779.7 L747.6,777.3 L749.4,774.9 L751.2,772.5 L753.0,770.1 L754.8,767.7 L756.6,765.3 L758.4,762.9 L760.2,760.5 L762.0,758.2 L763.8,755.8 L765.6,753.4 L767.4,751.1 L769.2,748.7 L771.0,746.4 L772.8,744.0 L774.6,741.7 L776.4,739.3 L778.2,737.0 L780.0,734.6 L781.8,732.3 L783.7,730.0 L785.5,727.6 L787.4,725.3 L789.2,723.0 L791.1,720.7 L793.0,718.3 L794.9,716.0 L796.8,713.7 L798.7,711.3 L800.7,709.0 L802.6,706.7 L804.6,704.3 L806.6,702.0 L808.6,699.7 L810.6,697.3 L812.6,695.0 L814.7,692.7 L816.8,690.3 L818.9,688.0 L821.0,685.7 L823.1,683.4 L825.3,681.2 L827.5,679.0 L829.8,676.9 L832.0,674.9 L834.4,673.0 L836.7,671.2 L839.2,669.6 L841.6,668.1 L844.1,666.8 L846.7,665.6 L849.3,664.6 L852.0,663.8 L854.7,663.3 L857.6,662.9 L860.4,662.8 L863.4,663.0 L866.3,663.3 L869.3,663.9 L872.3,664.6 L875.3,665.5 L878.2,666.5 L881.1,667.6 L883.9,668.9 L886.6,670.2 L889.3,671.7 L891.9,673.3 L894.5,674.9 L897.0,676.6 L899.4,678.5 L901.8,680.4 L904.1,682.3 L906.3,684.4 L908.5,686.5 L910.6,688.7 L912.7,690.9 L914.7,693.2 L916.7,695.5 L918.6,697.9 L920.4,700.3 L922.2,702.7 L923.9,705.2 L925.6,707.7 L927.3,710.3 L928.8,712.8 L930.4,715.4 L931.9,718.0 L933.3,720.6 L934.8,723.2 L936.1,725.9 L937.5,728.6 L938.8,731.2 L940.1,733.9 L941.4,736.6 L942.7,739.3 L943.9,742.0 L945.2,744.8 L946.4,747.5 L947.6,750.2 L948.9,753.0 L950.1,755.7 L951.3,758.4 L952.5,761.2 L953.8,763.9 L955.0,766.6 L956.3,769.3 L957.6,772.0 L958.9,774.8 L960.2,777.4 L961.5,780.1 L962.9,782.8 L964.3,785.5 L965.8,788.1 L967.2,790.7 L968.7,793.4 L970.1,796.0 L971.6,798.7 L973.1,801.3 L974.5,803.9 L976.0,806.6 L977.4,809.3 L978.8,811.9 L980.2,814.6 L981.5,817.3 L982.9,820.0 L984.1,822.8 L985.4,825.5 L986.6,828.3 L987.8,831.1 L989.0,833.9 L990.1,836.7 L991.3,839.4 L992.4,842.2 L993.6,845.0 L994.8,847.8 L996.0,850.5 L997.2,853.3 L998.4,856.0 L999.7,858.7 L1001.0,861.4 L1002.3,864.1 L1003.7,866.7 L1005.0,869.3 L1006.4,872.0 L1007.8,874.6 L1009.2,877.2 L1010.7,879.8 L1012.1,882.4 L1013.6,885.0 L1015.0,887.6 L1016.5,890.2 L1017.9,892.9 L1019.4,895.5 L1020.8,898.1 L1022.3,900.8 L1023.7,903.4 L1025.2,906.0 L1026.6,908.7 L1028.1,911.3 L1029.5,914.0 L1031.0,916.6 L1032.5,919.3 L1034.0,921.9 L1035.4,924.6 L1036.9,927.2 L1038.4,929.9 L1039.9,932.5 L1041.4,935.1 L1043.0,937.8 L1044.5,940.4 L1046.0,943.0 L1047.6,945.6 L1049.1,948.2 L1050.7,950.8 L1052.3,953.4 L1053.9,956.0 L1055.5,958.5 L1057.1,961.1 L1058.8,963.6 L1060.4,966.1 L1062.1,968.7 L1063.8,971.2 L1065.5,973.6 L1067.2,976.1 L1069.0,978.6 L1070.7,981.0 L1072.5,983.4 L1074.3,985.8 L1076.1,988.2 L1078.0,990.6 L1079.8,992.9 L1081.7,995.2 L1083.6,997.5 L1085.6,999.8 L1087.5,1002.1 L1089.5,1004.3 L1091.5,1006.5 L1093.5,1008.7 L1095.5,1010.9 L1097.6,1013.0 L1099.7,1015.2 L1101.8,1017.3 L1103.9,1019.4 L1106.0,1021.5 L1108.2,1023.5 L1110.3,1025.6 L1112.5,1027.6 L1114.7,1029.6 L1117.0,1031.6 L1119.2,1033.6 L1121.5,1035.5 L1123.8,1037.4 L1126.0,1039.4 L1128.4,1041.2 L1130.7,1043.1 L1133.0,1045.0 L1135.4,1046.8 L1137.8,1048.7 L1140.1,1050.5 L1142.5,1052.3 L1145.0,1054.1 L1147.4,1055.8 L1149.8,1057.6 L1152.3,1059.3 L1154.8,1061.0 L1157.2,1062.7 L1159.7,1064.4 L1162.2,1066.1 L1164.8,1067.7 L1167.3,1069.4 L1169.8,1071.0 L1172.4,1072.6 L1174.9,1074.2 L1177.5,1075.8 L1180.1,1077.4 L1182.7,1078.9 L1185.3,1080.5 L1187.9,1082.0 L1190.5,1083.5 L1193.1,1085.0 L1195.8,1086.5 L1198.4,1088.0 L1201.1,1089.5 L1203.7,1091.0 L1206.4,1092.4 L1209.1,1093.8 L1211.8,1095.3 L1214.4,1096.7 L1217.1,1098.1 L1219.8,1099.5 L1222.5,1100.8 L1225.2,1102.2 L1227.9,1103.6 L1230.7,1104.9 L1233.4,1106.2 L1236.1,1107.6 L1238.8,1108.9 L1241.6,1110.2 L1244.3,1111.5 L1247.0,1112.8 L1249.8,1114.1 L1252.5,1115.3 L1255.3,1116.6 L1258.0,1117.8 L1260.8,1119.1 L1263.5,1120.3 L1266.3,1121.5 L1269.1,1122.7 L1271.8,1123.9 L1274.6,1125.1 L1277.4,1126.3 L1280.1,1127.4 L1282.9,1128.6 L1285.7,1129.7 L1288.5,1130.9 L1291.3,1132.0 L1294.1,1133.1 L1296.9,1134.2 L1299.7,1135.3 L1302.5,1136.4 L1305.3,1137.4 L1308.1,1138.5 L1310.9,1139.5 L1313.7,1140.6 L1316.5,1141.6 L1319.4,1142.6 L1322.2,1143.6 L1325.0,1144.6 L1327.9,1145.6 L1330.7,1146.5 L1333.5,1147.5 L1336.4,1148.4 L1339.2,1149.3 L1342.1,1150.3 L1344.9,1151.2 L1347.8,1152.0 L1350.6,1152.9 L1353.5,1153.8 L1356.4,1154.6 L1359.2,1155.5 L1362.1,1156.3 L1365.0,1157.1 L1367.9,1157.9 L1370.8,1158.7 L1373.6,1159.5 L1376.5,1160.2 L1379.4,1161.0 L1382.3,1161.7 L1385.2,1162.4 L1388.1,1163.1 L1391.1,1163.8 L1394.0,1164.5 L1396.9,1165.1 L1399.8,1165.8 L1402.7,1166.4 L1405.7,1167.0 L1408.6,1167.7 L1411.5,1168.2 L1414.5,1168.8 L1417.4,1169.4 L1420.3,1169.9 L1423.3,1170.5 L1426.2,1171.0 L1429.2,1171.5 L1432.2,1172.0 L1435.1,1172.5 L1438.1,1173.0 L1441.0,1173.5 L1444.0,1174.0 L1447.0,1174.4 L1450.0,1174.8 L1452.9,1175.3 L1455.9,1175.7 L1458.9,1176.1 L1461.9,1176.5 L1464.9,1176.9 L1467.8,1177.3 L1470.8,1177.6 L1473.8,1178.0 L1476.8,1178.4 L1479.8,1178.7 L1482.8,1179.0 L1485.8,1179.4 L1488.8,1179.7 L1491.8,1180.0 L1494.8,1180.3 L1497.8,1180.6 L1500.8,1180.9 L1503.8,1181.2 L1506.8,1181.5 L1509.8,1181.7 L1512.8,1182.0 L1515.9,1182.3 L1518.9,1182.5 L1521.9,1182.8 L1524.9,1183.0 L1527.9,1183.2 L1530.9,1183.5 L1533.9,1183.7 L1537.0,1183.9 L1540.0,1184.1 L1543.0,1184.4 L1546.0,1184.6 L1549.0,1184.8 L1552.0,1185.0 L1555.1,1185.2 L1558.1,1185.4 L1561.1,1185.6 L1564.1,1185.8 L1567.1,1186.0 L1570.1,1186.2 L1573.2,1186.3 L1576.2,1186.5 L1579.2,1186.7 L1582.2,1186.9 L1585.2,1187.1 L1588.2,1187.3 L1591.2,1187.4 L1594.3,1187.6 L1597.3,1187.8 L1600.3,1188.0 L1603.3,1188.2 L1606.3,1188.3 L1609.3,1188.5 L1612.3,1188.7 L1615.3,1188.9 L1618.3,1189.1 L1621.3,1189.3 L1624.3,1189.4 L1627.3,1189.6 L1630.3,1189.8 L1633.3,1190.0 L1636.3,1190.2 L1639.3,1190.4 L1642.3,1190.6 L1645.3,1190.8 L1648.3,1191.0 L1651.2,1191.2 L1654.2,1191.5 L1657.2,1191.7 L1660.2,1191.9 L1663.2,1192.1 L1666.1,1192.4 L1669.1,1192.6 L1672.1,1192.9 L1675.0,1193.1 L1678.0,1193.4 L1680.9,1193.6 L1683.9,1193.9 L1686.9,1194.2 L1689.8,1194.4 L1695.4,1209.0" stroke="#000" stroke-width="10"/>
</g>
<rect x="295.5" y="34.5" width="1537" height="1233" fill="none" stroke="#000" stroke-width="15"/>
<rect x="271" y="1260.0" width="20" height="15" fill="#000"/>
<rect x="283" y="1206.4" width="8" height="15" fill="#000"/>
<rect x="271" y="1152.8" width="20" height="15" fill="#000"/>
<rect x="283" y="1099.2" width="8" height="15" fill="#000"/>
<rect x="271" y="1045.6" width="20" height="15" fill="#000"/>
<rect x="283" y="992.0" width="8" height="15" fill="#000"/>
<rect x="271" y="938.5" width="20" height="15" fill="#000"/>
<rect x="283" y="884.9" width="8" height="15" fill="#000"/>
<rect x="271" y="831.3" width="20" height="15" fill="#000"/>
<rect x="283" y="777.7" width="8" height="15" fill="#000"/>
<rect x="271" y="724.1" width="20" height="15" fill="#000"/>
<rect x="283" y="670.5" width="8" height="15" fill="#000"/>
<rect x="271" y="616.9" width="20" height="15" fill="#000"/>
<rect x="283" y="563.3" width="8" height="15" fill="#000"/>
<rect x="271" y="509.7" width="20" height="15" fill="#000"/>
<rect x="283" y="456.1" width="8" height="15" fill="#000"/>
<rect x="271" y="402.6" width="20" height="15" fill="#000"/>
<rect x="283" y="349.0" width="8" height="15" fill="#000"/>
<rect x="271" y="295.4" width="20" height="15" fill="#000"/>
<rect x="283" y="241.8" width="8" height="15" fill="#000"/>
<rect x="271" y="188.2" width="20" height="15" fill="#000"/>
<rect x="283" y="134.6" width="8" height="15" fill="#000"/>
<rect x="271" y="81.0" width="20" height="15" fill="#000"/>
<rect x="283" y="27.4" width="8" height="15" fill="#000"/>
<rect x="314.9" y="1272" width="15" height="19" fill="#000"/>
<rect x="452.2" y="1272" width="15" height="8" fill="#000"/>
<rect x="589.5" y="1272" width="15" height="19" fill="#000"/>
<rect x="726.8" y="1272" width="15" height="8" fill="#000"/>
<rect x="864.1" y="1272" width="15" height="19" fill="#000"/>
<rect x="1001.4" y="1272" width="15" height="8" fill="#000"/>
<rect x="1138.7" y="1272" width="15" height="19" fill="#000"/>
<rect x="1276.0" y="1272" width="15" height="8" fill="#000"/>
<rect x="1413.3" y="1272" width="15" height="19" fill="#000"/>
<rect x="1550.6" y="1272" width="15" height="8" fill="#000"/>
<rect x="1687.9" y="1272" width="15" height="19" fill="#000"/>
<rect x="1825.2" y="1272" width="15" height="8" fill="#000"/>
<text transform="translate(255.5,1281.0) scale(1,1.065)" font-size="45" text-anchor="end">0</text>
<text transform="translate(255.5,1173.8) scale(1,1.065)" font-size="45" text-anchor="end">20</text>
<text transform="translate(255.5,1066.6) scale(1,1.065)" font-size="45" text-anchor="end">40</text>
<text transform="translate(255.5,959.5) scale(1,1.065)" font-size="45" text-anchor="end">60</text>
<text transform="translate(255.5,852.3) scale(1,1.065)" font-size="45" text-anchor="end">80</text>
<text transform="translate(255.5,745.1) scale(1,1.065)" font-size="45" text-anchor="end">100</text>
<text transform="translate(255.5,637.9) scale(1,1.065)" font-size="45" text-anchor="end">120</text>
<text transform="translate(255.5,530.7) scale(1,1.065)" font-size="45" text-anchor="end">140</text>
<text transform="translate(255.5,423.6) scale(1,1.065)" font-size="45" text-anchor="end">160</text>
<text transform="translate(255.5,316.4) scale(1,1.065)" font-size="45" text-anchor="end">180</text>
<text transform="translate(255.5,209.2) scale(1,1.065)" font-size="45" text-anchor="end">200</text>
<text transform="translate(255.5,102.0) scale(1,1.065)" font-size="45" text-anchor="end">220</text>
<text transform="translate(322.4,1342) scale(1,1.07)" font-size="45" text-anchor="middle">350</text>
<text transform="translate(597.0,1342) scale(1,1.07)" font-size="45" text-anchor="middle">400</text>
<text transform="translate(871.6,1342) scale(1,1.07)" font-size="45" text-anchor="middle">450</text>
<text transform="translate(1146.2,1342) scale(1,1.07)" font-size="45" text-anchor="middle">500</text>
<text transform="translate(1420.8,1342) scale(1,1.07)" font-size="45" text-anchor="middle">550</text>
<text transform="translate(1695.4,1342) scale(1,1.07)" font-size="45" text-anchor="middle">600</text>
<text x="815" y="1455" font-size="57">Wavelength (nm)</text>
<text transform="translate(62,1037.5) rotate(-90)" font-size="57">Fluorescence Intenisty (a. u.)</text>
<rect x="313.2" y="112.5" width="460.3" height="221.5" fill="#fff" stroke="#000" stroke-width="6.5"/>
<line x1="321" y1="152.4" x2="451" y2="152.4" stroke="#000" stroke-width="15" stroke-linecap="round"/>
<text transform="translate(466,172.4) scale(1,1.042)" font-size="56.7">Z1 (6.9 nm)</text>
<line x1="321" y1="223.4" x2="451" y2="223.4" stroke="#f00" stroke-width="15" stroke-linecap="round"/>
<text transform="translate(466,243.4) scale(1,1.042)" font-size="56.7">Z2 (8.3 nm)</text>
<line x1="321" y1="294.4" x2="451" y2="294.4" stroke="#00f" stroke-width="15" stroke-linecap="round"/>
<text transform="translate(466,314.4) scale(1,1.042)" font-size="56.7">Coumarin</text>
<rect x="1110" y="57.6" width="699.8" height="557.1" fill="#fff" stroke="#000" stroke-width="11.5"/>
<rect x="1096" y="614.0" width="10" height="7" fill="#000"/>
<rect x="1101.8" y="585.9" width="4" height="7" fill="#000"/>
<rect x="1096" y="557.8" width="10" height="7" fill="#000"/>
<rect x="1101.8" y="529.7" width="4" height="7" fill="#000"/>
<rect x="1096" y="501.6" width="10" height="7" fill="#000"/>
<rect x="1101.8" y="473.5" width="4" height="7" fill="#000"/>
<rect x="1096" y="445.4" width="10" height="7" fill="#000"/>
<rect x="1101.8" y="417.3" width="4" height="7" fill="#000"/>
<rect x="1096" y="389.2" width="10" height="7" fill="#000"/>
<rect x="1101.8" y="361.0" width="4" height="7" fill="#000"/>
<rect x="1096" y="332.9" width="10" height="7" fill="#000"/>
<rect x="1101.8" y="304.8" width="4" height="7" fill="#000"/>
<rect x="1096" y="276.7" width="10" height="7" fill="#000"/>
<rect x="1101.8" y="248.6" width="4" height="7" fill="#000"/>
<rect x="1096" y="220.5" width="10" height="7" fill="#000"/>
<rect x="1101.8" y="192.4" width="4" height="7" fill="#000"/>
<rect x="1096" y="164.3" width="10" height="7" fill="#000"/>
<rect x="1101.8" y="136.2" width="4" height="7" fill="#000"/>
<rect x="1096" y="108.1" width="10" height="7" fill="#000"/>
<rect x="1101.8" y="80.0" width="4" height="7" fill="#000"/>
<rect x="1096" y="51.9" width="10" height="7" fill="#000"/>
<rect x="1104.0" y="618" width="7" height="11" fill="#000"/>
<rect x="1158.2" y="618" width="7" height="5.7" fill="#000"/>
<rect x="1212.5" y="618" width="7" height="11" fill="#000"/>
<rect x="1266.8" y="618" width="7" height="5.7" fill="#000"/>
<rect x="1321.0" y="618" width="7" height="11" fill="#000"/>
<rect x="1375.2" y="618" width="7" height="5.7" fill="#000"/>
<rect x="1429.5" y="618" width="7" height="11" fill="#000"/>
<rect x="1483.8" y="618" width="7" height="5.7" fill="#000"/>
<rect x="1538.0" y="618" width="7" height="11" fill="#000"/>
<rect x="1592.2" y="618" width="7" height="5.7" fill="#000"/>
<rect x="1646.5" y="618" width="7" height="11" fill="#000"/>
<rect x="1700.8" y="618" width="7" height="5.7" fill="#000"/>
<rect x="1755.0" y="618" width="7" height="11" fill="#000"/>
<rect x="1809.2" y="618" width="7" height="5.7" fill="#000"/>
<text transform="translate(1090,626.5) scale(1,1.05)" font-size="26" text-anchor="end">0.0</text>
<text transform="translate(1090,570.3) scale(1,1.05)" font-size="26" text-anchor="end">0.2</text>
<text transform="translate(1090,514.1) scale(1,1.05)" font-size="26" text-anchor="end">0.4</text>
<text transform="translate(1090,457.9) scale(1,1.05)" font-size="26" text-anchor="end">0.6</text>
<text transform="translate(1090,401.7) scale(1,1.05)" font-size="26" text-anchor="end">0.8</text>
<text transform="translate(1090,345.4) scale(1,1.05)" font-size="26" text-anchor="end">1.0</text>
<text transform="translate(1090,289.2) scale(1,1.05)" font-size="26" text-anchor="end">1.2</text>
<text transform="translate(1090,233.0) scale(1,1.05)" font-size="26" text-anchor="end">1.4</text>
<text transform="translate(1090,176.8) scale(1,1.05)" font-size="26" text-anchor="end">1.6</text>
<text transform="translate(1090,120.6) scale(1,1.05)" font-size="26" text-anchor="end">1.8</text>
<text transform="translate(1090,64.4) scale(1,1.05)" font-size="26" text-anchor="end">2.0</text>
<text transform="translate(1108.3,655.5) scale(1,1.04)" font-size="26" text-anchor="middle">0</text>
<text transform="translate(1216.8,655.5) scale(1,1.04)" font-size="26" text-anchor="middle">10</text>
<text transform="translate(1325.3,655.5) scale(1,1.04)" font-size="26" text-anchor="middle">20</text>
<text transform="translate(1433.8,655.5) scale(1,1.04)" font-size="26" text-anchor="middle">30</text>
<text transform="translate(1542.3,655.5) scale(1,1.04)" font-size="26" text-anchor="middle">40</text>
<text transform="translate(1650.8,655.5) scale(1,1.04)" font-size="26" text-anchor="middle">50</text>
<text transform="translate(1759.3,655.5) scale(1,1.04)" font-size="26" text-anchor="middle">60</text>
<text x="1396" y="700.2" font-size="26">Time (min)</text>
<text transform="translate(1036,376.5) rotate(-90)" font-size="26">ln (I/I<tspan font-size="17" dy="6">0</tspan><tspan dy="-6">)</tspan></text>
<rect x="1095.2" y="605.2" width="24.5" height="24.5" fill="#000"/>
<rect x="1258.0" y="432.1" width="24.5" height="24.5" fill="#000"/>
<rect x="1366.5" y="321.1" width="24.5" height="24.5" fill="#000"/>
<rect x="1420.8" y="282.0" width="24.5" height="24.5" fill="#000"/>
<rect x="1475.0" y="215.7" width="24.5" height="24.5" fill="#000"/>
<rect x="1583.5" y="99.3" width="24.5" height="24.5" fill="#000"/>
<line x1="1107.5" y1="617.5" x2="1595.8" y2="116.8" stroke="#f00" stroke-width="8.5" stroke-linecap="round"/>
<line x1="1107.5" y1="617.5" x2="1758.5" y2="151.7" stroke="#f00" stroke-width="8.5" stroke-linecap="round"/>
<circle cx="1107.5" cy="617.5" r="14" fill="#f00"/>
<circle cx="1216.0" cy="529.8" r="14" fill="#f00"/>
<circle cx="1324.5" cy="451.1" r="14" fill="#f00"/>
<circle cx="1541.5" cy="302.7" r="14" fill="#f00"/>
<circle cx="1595.8" cy="272.4" r="14" fill="#f00"/>
<circle cx="1758.5" cy="141.1" r="14" fill="#f00"/>
<rect x="1144.5" y="92.8" width="313" height="97.3" fill="#fff" stroke="#000" stroke-width="7"/>
<rect x="1179" y="109" width="25" height="25" fill="#000"/>
<circle cx="1191.6" cy="164.7" r="13.8" fill="#f00"/>
<text transform="translate(1229.8,129.6) scale(1,1.05)" font-size="26">K<tspan font-size="17" dy="8">f</tspan><tspan dx="-3" dy="-8">Z1</tspan><tspan dx="3"> = 39.59x10</tspan><tspan font-size="17" dy="-11">-3</tspan></text>
<text transform="translate(1229.8,173.4) scale(1,1.05)" font-size="26">K<tspan font-size="17" dy="8">f</tspan><tspan dx="-3" dy="-8">Z2</tspan><tspan dx="3"> = 27.62x10</tspan><tspan font-size="17" dy="-11">-3</tspan></text>
</svg></body></html>
